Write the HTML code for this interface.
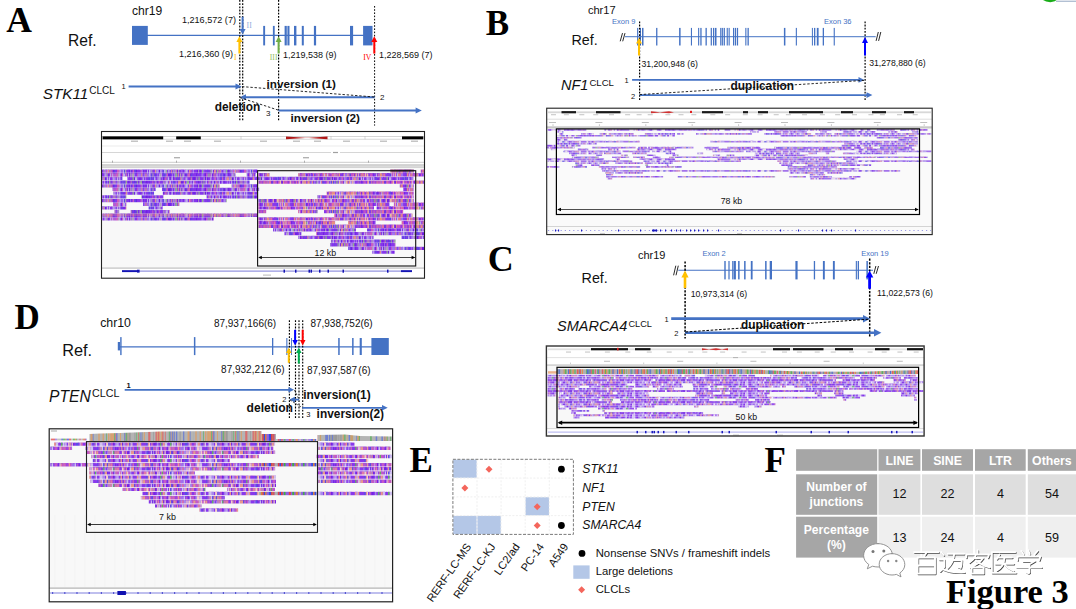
<!DOCTYPE html>
<html><head><meta charset="utf-8"><title>Figure 3</title>
<style>
html,body{margin:0;padding:0;background:#fff;}
body{width:1076px;height:609px;overflow:hidden;font-family:"Liberation Sans",sans-serif;}
svg{display:block;position:absolute;left:0;top:0;}
text{font-family:"Liberation Sans",sans-serif;fill:#111;}
.lab{font-family:"Liberation Serif",serif;font-weight:bold;font-size:35px;fill:#000;}
.b{font-weight:bold;}
.i{font-style:italic;}
.bl{fill:#4472C4;}
.ex{fill:#4472C4;}
</style></head><body>
<svg width="1076" height="609" viewBox="0 0 1076 609">
<!-- 00_defs.svg -->
<defs>
<pattern id="pA" patternUnits="userSpaceOnUse" x="0" y="169.55" width="127" height="14.720">
<path d="M0 1.9h127M0 5.6h127M0 9.2h127M0 12.9h127" stroke="#8636ec" stroke-width="3.8" fill="none"/>
<path d="M2.2 1.9h1.1M4.1 1.9h0.8M8.9 1.9h1.1M15.5 1.9h1.2M18.7 1.9h1.2M31.9 1.9h1.3M50.1 1.9h1M56.5 1.9h0.8M64.6 1.9h1M70.1 1.9h0.9M72.9 1.9h1M85.9 1.9h1M100.3 1.9h1.4M112.5 1.9h1.4M1.9 5.6h1M40.9 5.6h0.9M41.8 5.6h1.1M42.9 5.6h0.9M46.2 5.6h0.8M58.2 5.6h1.2M63.1 5.6h1.1M69.1 5.6h1M77.9 5.6h1.3M84.8 5.6h1M96.7 5.6h1M97.7 5.6h0.8M101.3 5.6h0.9M107.6 5.6h1M121.3 5.6h0.9M6.9 9.2h1.1M12.4 9.2h1.2M35.7 9.2h1.1M36.7 9.2h0.9M43.4 9.2h1M45.8 9.2h1M62.7 9.2h1.1M66.1 9.2h1.2M67.3 9.2h1.1M77.8 9.2h1.2M80.1 9.2h1M104.8 9.2h1.2M123.5 9.2h1M1.1 12.9h1.4M6.8 12.9h0.9M8.9 12.9h0.9M11.6 12.9h0.8M15 12.9h1.4M18.6 12.9h1.2M19.7 12.9h1M21.7 12.9h1M26.4 12.9h1.3M29.6 12.9h0.9M53.7 12.9h1.2M54.9 12.9h1M65.2 12.9h0.9M71.1 12.9h1.1M75.3 12.9h1.1M86.7 12.9h1.4M92.9 12.9h0.9M96.8 12.9h0.8M108.1 12.9h1" stroke="#7020e4" stroke-width="3.8" fill="none"/>
<path d="M3.3 1.9h0.8M23.2 1.9h0.9M29 1.9h0.9M30.7 1.9h1.3M34.5 1.9h1.1M42.4 1.9h0.8M46.8 1.9h0.8M54.4 1.9h0.9M57.3 1.9h1M76.2 1.9h1.1M93.8 1.9h0.9M97.5 1.9h1.4M104.7 1.9h1.3M109.4 1.9h1.3M120.7 1.9h1M3.7 5.6h1M6.9 5.6h1.1M11 5.6h0.9M11.9 5.6h1.2M13.2 5.6h1M15.3 5.6h0.9M17.1 5.6h1.3M19.5 5.6h1.3M20.9 5.6h1.2M23.1 5.6h1.1M30.3 5.6h0.9M38.5 5.6h1M45.1 5.6h1.1M47 5.6h1.2M74.4 5.6h1.2M75.6 5.6h0.9M80.3 5.6h1M91.6 5.6h1M92.6 5.6h0.9M94.4 5.6h1.4M98.5 5.6h1.1M99.6 5.6h0.9M104 5.6h1.2M114.7 5.6h0.9M0 9.2h1.1M18 9.2h1.1M22.9 9.2h0.8M28 9.2h0.9M30.2 9.2h1.3M34.9 9.2h0.8M55.2 9.2h1.4M57.8 9.2h1.2M79 9.2h1M86.7 9.2h1M91.3 9.2h1.3M102 9.2h1.1M112.2 9.2h1M114.6 9.2h1.3M27.7 12.9h0.8M45.4 12.9h0.9M48.7 12.9h1.1M59 12.9h0.8M63.1 12.9h0.9M64 12.9h1.2M88.1 12.9h1.3M99.8 12.9h1.3M102 12.9h1M107.1 12.9h1M116.7 12.9h0.8M119.5 12.9h1M122.5 12.9h0.9" stroke="#a274ee" stroke-width="3.8" fill="none"/>
<path d="M14.6 1.9h0.9M19.9 1.9h1M22 1.9h1.3M29.9 1.9h0.8M33.3 1.9h1.2M36.9 1.9h1.1M38 1.9h0.8M41.3 1.9h1M58.3 1.9h1.4M59.7 1.9h1.1M65.7 1.9h0.9M84.6 1.9h1.3M96.6 1.9h1M107.2 1.9h0.9M119.3 1.9h1.4M122.6 1.9h1.4M1 5.6h0.9M22 5.6h1.1M32 5.6h0.8M34.1 5.6h0.9M56.2 5.6h1.1M83.6 5.6h1.2M89.3 5.6h1.3M105.2 5.6h1.3M110.1 5.6h1.2M112.1 5.6h1.3M119.1 5.6h1.2M123 5.6h1.1M124.1 5.6h1.2M8 9.2h1.1M9 9.2h1.3M15.6 9.2h1.2M27 9.2h0.9M31.5 9.2h1.3M40.7 9.2h1.4M44.4 9.2h1.4M59.1 9.2h1.3M83.3 9.2h1.1M90.4 9.2h0.8M98.3 9.2h1.1M106.9 9.2h1.2M108.9 9.2h1.1M113.2 9.2h1.4M116.9 9.2h1.4M119.2 9.2h1.1M38.5 12.9h1.4M39.9 12.9h1M42.7 12.9h1.3M66.1 12.9h1.2M78.6 12.9h1.3M85.3 12.9h1.4M91.7 12.9h1.2M94.7 12.9h1M104.2 12.9h0.9M118.7 12.9h0.9" stroke="#c0b0e8" stroke-width="3.8" fill="none"/>
<path d="M27.9 1.9h1.1M44.1 1.9h0.8M62 1.9h1.3M86.9 1.9h0.9M87.8 1.9h1.1M92.5 1.9h1.3M108 1.9h1.3M110.6 1.9h0.9M14.2 5.6h1.1M18.4 5.6h1.1M51.2 5.6h0.8M86.7 5.6h0.8M126.4 5.6h1.3M38.6 9.2h0.8M63.7 9.2h1M99.4 9.2h1.4M100.8 9.2h1.2M103.1 9.2h0.8M125.7 9.2h1.3M3.8 12.9h0.9M41.9 12.9h0.8M51.1 12.9h1.3M52.4 12.9h1.3M57.1 12.9h0.9M89.4 12.9h1" stroke="#e09090" stroke-width="3.8" fill="none"/>
<path d="M5.8 1.9h1.1M13.6 1.9h1M48.8 1.9h1.3M63.3 1.9h1.3M91.2 1.9h1.3M106 1.9h1.2M111.5 1.9h1M117.1 1.9h1.3M118.4 1.9h0.9M10.2 5.6h0.8M39.5 5.6h1.4M60.2 5.6h1.2M61.4 5.6h0.9M62.3 5.6h0.8M79.2 5.6h1.1M82.5 5.6h1M88.4 5.6h0.9M111.3 5.6h0.8M113.5 5.6h1.2M115.6 5.6h1.1M116.7 5.6h1.3M122.1 5.6h0.9M37.6 9.2h1M47.8 9.2h0.9M52.7 9.2h1.3M87.7 9.2h1.4M94.8 9.2h1.3M25.4 12.9h1M31.8 12.9h1M67.3 12.9h1.2M81.3 12.9h1.1M113.5 12.9h1.1" stroke="#cc60c0" stroke-width="3.8" fill="none"/>
<path d="M24.2 1.9h1.1M45.8 1.9h1M47.7 1.9h1.1M51.1 1.9h1M71 1.9h0.8M103.5 1.9h1.2M125.1 1.9h1.1M2.9 5.6h0.9M4.7 5.6h1.2M5.9 5.6h1.1M25.3 5.6h1.2M32.9 5.6h1.3M53 5.6h1.1M55.3 5.6h0.9M106.4 5.6h1.2M118 5.6h1.2M32.8 9.2h0.9M54.1 9.2h1.2M69.3 9.2h0.9M76.6 9.2h1.1M103.9 9.2h0.9M12.5 12.9h1.3M28.5 12.9h1M36.3 12.9h1.2M74.4 12.9h0.9M82.3 12.9h1.3M112.7 12.9h0.8M114.5 12.9h1M117.5 12.9h1.2" stroke="#b0a0b8" stroke-width="3.8" fill="none"/>
<path d="M7.7 1.9h1.2M35.6 1.9h1.3M80.5 1.9h0.8M113.9 1.9h1M123.9 1.9h1.1M24.2 5.6h1.1M27.9 5.6h1.1M36.2 5.6h1.3M37.6 5.6h0.9M59.4 5.6h0.8M64.2 5.6h1.1M93.5 5.6h1M95.8 5.6h0.9M21.5 9.2h1.4M23.7 9.2h1.3M26.1 9.2h0.9M48.7 9.2h1M51.7 9.2h1M93.7 9.2h1M121.4 9.2h1.2M4.7 12.9h1M7.7 12.9h1.2M16.4 12.9h0.9M46.3 12.9h1.4M106.1 12.9h1M121.4 12.9h1.1M123.4 12.9h1.3" stroke="#5c48e4" stroke-width="3.8" fill="none"/>
<path d="M38.9 1.9h1.2M74.9 1.9h1.3M83.5 1.9h1.1M89.9 1.9h1.3M98.9 1.9h1.4M48.2 5.6h0.8M49 5.6h1.3M81.3 5.6h1.2M5.6 9.2h1.2M71.4 9.2h1.3M9.8 12.9h0.9M13.8 12.9h1.2M59.8 12.9h1M60.8 12.9h1.3M76.4 12.9h1M109.1 12.9h1.3M125.6 12.9h1.4" stroke="#90b090" stroke-width="3.8" fill="none"/>
</pattern>
<pattern id="pAr" patternUnits="userSpaceOnUse" x="0" y="169.55" width="113" height="14.720">
<path d="M0 1.9h113M0 5.6h113M0 9.2h113M0 12.9h113" stroke="#8838ec" stroke-width="3.8" fill="none"/>
<path d="M4 1.9h1.3M9.6 1.9h0.9M16.3 1.9h1.2M21.5 1.9h1.1M44.1 1.9h1.3M47.8 1.9h0.9M48.7 1.9h1.1M60.2 1.9h1.3M66.2 1.9h1.3M74 1.9h0.9M85 1.9h1M92.3 1.9h1M99.6 1.9h1M110.1 1.9h1.2M3.7 5.6h1M15.1 5.6h1.1M33.6 5.6h1.2M37.9 5.6h0.8M66.8 5.6h0.9M79.6 5.6h1.3M80.9 5.6h0.9M103.4 5.6h1.1M112.6 5.6h1.2M21.9 9.2h1M33.7 9.2h1.1M37.2 9.2h1.3M38.5 9.2h1M41.4 9.2h1M52 9.2h1.2M65 9.2h1.1M89.9 9.2h1.3M92.5 9.2h1.1M95.9 9.2h1M101.2 9.2h0.8M3.8 12.9h1.1M22.2 12.9h1.2M45.1 12.9h1.1M50.7 12.9h1.2M55.1 12.9h1.3M56.3 12.9h0.8M61.6 12.9h1.1M68.3 12.9h1.4M75 12.9h1.3M92.6 12.9h1.1" stroke="#7424e4" stroke-width="3.8" fill="none"/>
<path d="M0 1.9h1.4M7.6 1.9h0.9M8.5 1.9h1.1M32.3 1.9h1.1M42 1.9h0.8M54.5 1.9h1.2M59.1 1.9h1.2M76 1.9h0.8M76.8 1.9h0.9M86.8 1.9h1.1M5.9 5.6h1.2M7.1 5.6h1.3M39.7 5.6h1M43.4 5.6h0.8M62 5.6h1.2M63.1 5.6h1M73.4 5.6h1M84 5.6h0.9M89.3 5.6h0.9M110.4 5.6h0.9M1.1 9.2h1.2M4.3 9.2h1.3M19.1 9.2h1M20 9.2h0.8M35.9 9.2h1.3M44.4 9.2h1.2M74.5 9.2h1M91.2 9.2h1.3M1.3 12.9h1.2M12.3 12.9h0.8M41.5 12.9h1.2M84.6 12.9h1.4M88.1 12.9h1.2M103.9 12.9h1.2M108.1 12.9h1.2M112.6 12.9h1" stroke="#a070ea" stroke-width="3.8" fill="none"/>
<path d="M19.6 1.9h1.1M26 1.9h0.9M26.9 1.9h0.9M71.7 1.9h1.2M79.8 1.9h1.2M87.9 1.9h1.2M103.5 1.9h1.2M104.8 1.9h1.2M111.3 1.9h1.1M36.9 5.6h1M52.1 5.6h0.8M54 5.6h0.9M57.8 5.6h1.2M70.1 5.6h0.9M76.5 5.6h0.9M78.7 5.6h0.9M91.5 5.6h1.2M97.8 5.6h1.2M100.9 5.6h1.3M108.3 5.6h1.2M0 9.2h1.1M42.3 9.2h1M69.2 9.2h1.1M81.1 9.2h1.1M85.8 9.2h1M87.9 9.2h0.9M110.3 9.2h1.2M4.9 12.9h1M5.9 12.9h1M11 12.9h1.4M14.3 12.9h1.4M72.9 12.9h1.3M91.2 12.9h1.3M93.7 12.9h1.3" stroke="#c8b4e8" stroke-width="3.8" fill="none"/>
<path d="M1.4 1.9h1.3M11.8 1.9h0.8M15.1 1.9h1.2M17.5 1.9h1.1M18.5 1.9h1.1M20.6 1.9h0.8M53.7 1.9h0.9M55.7 1.9h1.3M61.5 1.9h1.4M68.7 1.9h1.2M77.7 1.9h0.9M82.8 1.9h0.9M86 1.9h0.8M91.4 1.9h0.8M94.2 1.9h0.8M96.3 1.9h0.9M97.2 1.9h1.1M112.5 1.9h1.3M0 5.6h1M16.3 5.6h0.9M21.6 5.6h1.2M24.1 5.6h0.8M40.7 5.6h1.4M42.1 5.6h1.3M59 5.6h0.9M67.8 5.6h1.3M72.2 5.6h1.3M77.5 5.6h1.3M92.7 5.6h0.9M96.6 5.6h1.2M99 5.6h0.9M109.5 5.6h1M3.4 9.2h0.9M6.7 9.2h0.8M8.4 9.2h1.4M9.8 9.2h0.9M11.8 9.2h1.1M12.9 9.2h1.3M23.8 9.2h1.4M28.1 9.2h1.3M29.3 9.2h1.1M31.4 9.2h1M43.3 9.2h1.1M72.2 9.2h1.1M76.9 9.2h1.2M78.1 9.2h0.8M83.6 9.2h1.2M88.9 9.2h1.1M96.9 9.2h1M99.9 9.2h1.3M102.8 9.2h1.4M105.4 9.2h1.3M106.7 9.2h1.2M107.9 9.2h1.2M8 12.9h0.8M9.7 12.9h1.3M32.4 12.9h0.8M37.5 12.9h1M40.5 12.9h1M48.3 12.9h1M57.1 12.9h1.1M77.4 12.9h1.3M78.8 12.9h1.1M81.7 12.9h1M82.7 12.9h1M86 12.9h0.9M105.9 12.9h1" stroke="#e8907e" stroke-width="3.8" fill="none"/>
<path d="M22.6 1.9h1.3M30 1.9h1.2M52.8 1.9h0.9M62.9 1.9h1M83.6 1.9h1.3M89.1 1.9h1.4M93.3 1.9h0.8M101.4 1.9h1.3M107.9 1.9h1M9.4 5.6h1.2M14.1 5.6h1.1M22.8 5.6h1.2M38.7 5.6h1M44.2 5.6h1.1M45.3 5.6h1M59.9 5.6h0.8M60.7 5.6h1.2M71.1 5.6h1.1M75.4 5.6h1.2M87 5.6h1.4M99.9 5.6h1M102.3 5.6h1.1M105.7 5.6h1.3M107 5.6h1.3M111.3 5.6h1.3M7.5 9.2h0.9M10.6 9.2h1.1M15.2 9.2h0.9M16.1 9.2h1M20.8 9.2h1.1M22.9 9.2h0.9M27.2 9.2h0.9M40.6 9.2h0.8M47.8 9.2h1.3M54 9.2h0.9M58.2 9.2h1.2M61.9 9.2h0.9M62.8 9.2h1.1M86.8 9.2h1.1M97.9 9.2h1.2M99.1 9.2h0.8M104.2 9.2h1.2M2.5 12.9h1.3M18.8 12.9h0.8M24.7 12.9h0.8M28 12.9h1.2M34.5 12.9h1M38.5 12.9h1.1M42.7 12.9h1M43.7 12.9h1.4M52.9 12.9h1M67.4 12.9h0.9M69.7 12.9h1.2M71.9 12.9h1M80.7 12.9h0.9M95 12.9h1.4" stroke="#e070a0" stroke-width="3.8" fill="none"/>
<path d="M5.3 1.9h1M36.1 1.9h1.2M57.1 1.9h1.1M100.6 1.9h0.8M102.7 1.9h0.8M108.9 1.9h1.2M11.8 5.6h1.1M12.8 5.6h1.2M24.9 5.6h1M27.2 5.6h0.8M31.1 5.6h1.3M32.4 5.6h1.2M52.9 5.6h1.1M54.9 5.6h1M69.1 5.6h1M74.5 5.6h0.9M81.8 5.6h1.2M90.1 5.6h1.4M95.6 5.6h1M104.5 5.6h1.2M25.2 9.2h0.9M32.4 9.2h1.3M45.6 9.2h1.4M46.9 9.2h0.8M49.1 9.2h0.9M56 9.2h1.3M60.6 9.2h1.3M63.9 9.2h1.1M70.3 9.2h1.1M71.4 9.2h0.8M73.3 9.2h1.2M84.8 9.2h1M94.7 9.2h1.2M20.5 12.9h0.9M25.5 12.9h1.2M35.5 12.9h0.9M39.6 12.9h0.9M47 12.9h1.2M49.3 12.9h1.4M51.8 12.9h1.1M58.2 12.9h1.3M59.5 12.9h0.8M60.3 12.9h1.3M62.7 12.9h1.3M66.3 12.9h1.1M74.2 12.9h0.9M100.3 12.9h1.1" stroke="#c850c8" stroke-width="3.8" fill="none"/>
<path d="M10.5 1.9h1.2M40.7 1.9h1.3M46.7 1.9h1.1M50.7 1.9h0.9M51.6 1.9h1.2M72.8 1.9h1.1M81 1.9h0.9M90.5 1.9h0.9M4.6 5.6h1.2M8.4 5.6h0.9M17.2 5.6h0.8M18.9 5.6h0.9M25.9 5.6h1.3M28 5.6h1.3M55.9 5.6h1M2.2 9.2h1.2M14.2 9.2h1M57.3 9.2h0.9M59.4 9.2h1.2M78.9 9.2h1.2M0 12.9h1.3M6.9 12.9h1.2M13.1 12.9h1.2M29.2 12.9h1.1M53.9 12.9h1.2M64.1 12.9h1.2M76.3 12.9h1.1M101.5 12.9h1.1" stroke="#f0b8a0" stroke-width="3.8" fill="none"/>
<path d="M38.3 1.9h1.1M10.6 5.6h1.2M50.8 5.6h1.3M88.4 5.6h0.9M5.6 9.2h1.1M30.4 9.2h0.9M51.2 9.2h0.8M93.6 9.2h1.1M19.6 12.9h0.9M30.2 12.9h1M46.2 12.9h0.8M96.3 12.9h1.3M105.1 12.9h0.9M106.9 12.9h1.2" stroke="#5c48e4" stroke-width="3.8" fill="none"/>
<path d="M34.8 1.9h1.3M37.4 1.9h0.9M58.2 1.9h0.9M67.5 1.9h1.2M17.2 9.2h0.9M80.1 9.2h1M90.4 12.9h0.8M110.3 12.9h1.4" stroke="#88a888" stroke-width="3.8" fill="none"/>
</pattern>
<pattern id="pB" patternUnits="userSpaceOnUse" x="0" y="129.20" width="101" height="9.750">
<path d="M0 1h101M0 3h101M0 4.9h101M0 6.8h101M0 8.8h101" stroke="#a272ec" stroke-width="2" fill="none"/>
<path d="M10.8 1h1.8M14.3 1h1.1M31.9 1h1.5M44 1h2M52.6 1h1.6M59.1 1h1.1M62.3 1h1.9M66.4 1h2M92.4 1h2M50.4 3h1.9M52.4 3h1.3M63.6 3h1.8M86.5 3h2.1M12.3 4.9h1M23 4.9h1.1M28.9 4.9h1.2M52.2 4.9h1.7M55.5 4.9h1.9M58.8 4.9h1.5M63.8 4.9h1.2M67.9 4.9h2.1M83.8 4.9h1.8M90.2 4.9h1.1M98.2 4.9h2.2M0 6.8h1.2M11.1 6.8h1.2M23 6.8h1M42.6 6.8h1.9M44.6 6.8h1.9M48.7 6.8h1.7M50.4 6.8h1.5M61.1 6.8h2M66.4 6.8h1.3M75.2 6.8h2.2M79 6.8h1.6M84.7 6.8h1.2M87.2 6.8h1.8M15.1 8.8h1.7M35 8.8h1.8M40.1 8.8h2M49.1 8.8h1.4M50.5 8.8h1M70.8 8.8h1.8M97.4 8.8h1.1" stroke="#8c4cea" stroke-width="2" fill="none"/>
<path d="M27.6 1h1.2M33.5 1h2M38.5 1h1.9M41.5 1h1.3M46 1h1.2M69.5 1h2M71.5 1h1.2M80.7 1h1.7M85.5 1h2M88.7 1h1.9M98 1h2.1M2.7 3h1.4M4.1 3h1M5.1 3h1.5M13.7 3h2.1M15.8 3h1.6M26.7 3h1M27.7 3h1.7M34.3 3h1.6M40.4 3h1.2M45.5 3h1.5M47 3h2M59.1 3h1.1M62.3 3h1.3M67 3h1.5M84.9 3h1.6M90 3h1.1M91.2 3h2.1M93.3 3h1.3M97.4 3h1.4M100.1 3h1.1M4.9 4.9h1.6M6.5 4.9h1.7M9.6 4.9h1.3M10.9 4.9h1.5M15.4 4.9h1.7M20.9 4.9h2M33.2 4.9h2M37.1 4.9h1.9M45.1 4.9h1.9M48.6 4.9h1.7M53.9 4.9h1.5M57.4 4.9h1.5M62.2 4.9h1.6M65 4.9h1.2M76.7 4.9h1.7M82.1 4.9h1.6M85.6 4.9h1.4M88.4 4.9h1.8M91.4 4.9h1.5M94.5 4.9h2.2M9.1 6.8h2.1M12.3 6.8h1.6M24 6.8h2M27.8 6.8h1.6M32.3 6.8h1.7M3.4 8.8h2.1M10.7 8.8h1.6M20.8 8.8h1.1M22 8.8h1.4M27.3 8.8h1.3M53.3 8.8h2M75.9 8.8h2.1M82 8.8h1.8M84.9 8.8h1.5M92.2 8.8h1.3" stroke="#bca6ee" stroke-width="2" fill="none"/>
<path d="M29.9 1h2M71.7 3h2.1M88.6 3h1.4M0 4.9h2M2 4.9h1.7M30 4.9h1.4M96.7 4.9h1.5M5 6.8h2.1M15.1 6.8h1.8M21.6 6.8h1.4M29.4 6.8h1.3M54.7 6.8h1.5M13.6 8.8h1.5M19.5 8.8h1.4M33.9 8.8h1M36.8 8.8h1.5M57.2 8.8h1.5M63.5 8.8h2M78 8.8h2.1M83.8 8.8h1.1M93.5 8.8h2.2" stroke="#dca4bc" stroke-width="2" fill="none"/>
<path d="M4.1 1h1.9M12.6 1h1.7M76.5 1h1.2M83.7 1h1.7M6.6 3h1.1M9.8 3h1.4M11.2 3h1.5M31.2 3h2M69.6 3h2.2M3.7 4.9h1.2M18.4 4.9h1.4M24 4.9h1.5M26.7 4.9h2.2M35.2 4.9h1.9M39 4.9h1.9M78.4 4.9h2.1M89 6.8h1.2M96.8 6.8h1.4M12.3 8.8h1.3M26.1 8.8h1.2M28.6 8.8h2.1M45 8.8h1.9M60.1 8.8h2" stroke="#cc8ccc" stroke-width="2" fill="none"/>
<path d="M22.5 3h1.3M100.4 4.9h1.6M20.1 6.8h1.5M39.8 6.8h1.7M70.9 6.8h1.6M66.5 8.8h1.1M90.4 8.8h1.8" stroke="#a4c494" stroke-width="2" fill="none"/>
<path d="M94.4 1h2M0 3h1.2M7.8 3h2M38.7 3h1.7M57.2 3h2M31.5 4.9h1.7M60.3 4.9h1.9M70 4.9h2M1.2 6.8h2.2M38.2 6.8h1.6M57.6 6.8h2.1M82.1 6.8h1.1M93.3 6.8h1.5M18.2 8.8h1.2M30.7 8.8h2.1M72.7 8.8h1.9M80.1 8.8h1.9" stroke="#7c78e6" stroke-width="2" fill="none"/>
<path d="M0 1h2.1M6 1h1.8M8.9 1h1.9M23.3 1h1M24.3 1h1.3M25.6 1h2M28.8 1h1.1M40.3 1h1.2M47.2 1h1.4M48.6 1h1.1M49.7 1h1.1M55.5 1h1.4M56.9 1h2.2M12.6 3h1.1M43.5 3h2M49 3h1.5M53.7 3h1.5M55.2 3h2M60.2 3h2.1M73.9 3h2M81.5 3h1.7M17 4.9h1.3M47 4.9h1.6M50.3 4.9h1.9M74.2 4.9h1.5M80.5 4.9h1.6M87 4.9h1.4M92.8 4.9h1.7M7.1 6.8h2M16.9 6.8h1.4M30.7 6.8h1.6M47.6 6.8h1.1M52 6.8h1.1M53 6.8h1.7M59.7 6.8h1.4M63 6.8h1.7M64.8 6.8h1.6M69.5 6.8h1.4M98.2 6.8h1.5M99.7 6.8h1.2M43.9 8.8h1.1M67.7 8.8h1.3" stroke="#e6dcea" stroke-width="2" fill="none"/>
</pattern>
<pattern id="pC" patternUnits="userSpaceOnUse" x="0" y="374.70" width="113" height="11.000">
<path d="M0 1.1h113M0 3.3h113M0 5.5h113M0 7.7h113M0 9.9h113" stroke="#9550ec" stroke-width="2.2" fill="none"/>
<path d="M4.5 1.1h1.9M52 1.1h1.8M87.3 1.1h1.6M0 3.3h1.6M30 3.3h1.2M45.1 3.3h1.1M76 3.3h1.7M79.2 3.3h1.8M82.9 3.3h1.1M86.8 3.3h1.2M89.4 3.3h1.4M3 5.5h1.6M4.7 5.5h1.6M6.2 5.5h1.1M8.6 5.5h1.5M20.9 5.5h1.9M54.8 5.5h1.6M56.4 5.5h1.7M58.1 5.5h1.1M79.3 5.5h1.6M93.5 5.5h1.8M102.6 5.5h1.9M112.4 5.5h1.6M23.9 7.7h1.3M65.3 7.7h1.9M86.3 7.7h1.4M100.3 7.7h1.7M110.6 7.7h1.7M112.4 7.7h1.7M1.5 9.9h1.7M27.5 9.9h1.1M38.2 9.9h1.7M41.4 9.9h1.4M57.3 9.9h1.4M61.8 9.9h1.8M71.6 9.9h1.8M79.3 9.9h1.8" stroke="#8234e8" stroke-width="2.2" fill="none"/>
<path d="M2.9 1.1h1.5M7.7 1.1h1.1M12.9 1.1h1.6M22.4 1.1h1.3M29.3 1.1h2M31.2 1.1h1.1M53.8 1.1h1.4M63.1 1.1h1.5M76.6 1.1h1.8M79.6 1.1h1.5M81.1 1.1h1.3M86.1 1.1h1.3M90.1 1.1h1.3M95.3 1.1h2M99 1.1h1.7M100.7 1.1h1.3M102 1.1h2M108 1.1h1.7M110.7 1.1h1.4M112.1 1.1h1.4M2.7 3.3h1.9M8.5 3.3h1.5M10 3.3h1.2M11.2 3.3h1.1M24.5 3.3h2M31.3 3.3h1M33.5 3.3h1.7M37.1 3.3h1.9M55.6 3.3h1.2M56.8 3.3h1.8M60.9 3.3h1.2M64.7 3.3h1.9M81 3.3h1.9M88 3.3h1.5M90.8 3.3h1M97.3 3.3h1.3M98.6 3.3h1.3M1.3 5.5h1.7M13.7 5.5h1.5M19.2 5.5h1.7M22.9 5.5h1.9M30.2 5.5h1.1M48.4 5.5h1.2M60.2 5.5h1.3M64.6 5.5h1.9M74.4 5.5h1.8M76.2 5.5h1.5M100 5.5h1.1M110.4 5.5h2M0 7.7h1.8M6.7 7.7h1.1M12.3 7.7h1.3M17.9 7.7h1.2M27.8 7.7h1.6M57.9 7.7h1.1M59 7.7h1.1M64 7.7h1.4M72.9 7.7h1M73.9 7.7h1.4M78.4 7.7h1.5M92.7 7.7h1.3M102 7.7h1.6M105.9 7.7h1.9M0 9.9h1.5M3.2 9.9h1.6M4.8 9.9h1.2M8.8 9.9h1.5M11.5 9.9h1.9M13.5 9.9h1.5M28.6 9.9h1.8M33.2 9.9h1.7M44.1 9.9h1.2M52.9 9.9h1.2M54.1 9.9h1.8M63.6 9.9h1.4M73.4 9.9h1.5M76.8 9.9h1M77.8 9.9h1.5M82.6 9.9h1.4M88.6 9.9h1.7M95.4 9.9h1.8M98.2 9.9h1.7M100.9 9.9h1.4M106.2 9.9h1.3M111.2 9.9h1.9" stroke="#b292f0" stroke-width="2.2" fill="none"/>
<path d="M0 1.1h1.7M11.7 1.1h1.2M19.8 1.1h1.2M26.2 1.1h2M28.2 1.1h1.1M35.3 1.1h1.9M44.6 1.1h1.2M48.8 1.1h1.8M57.8 1.1h1.6M59.4 1.1h1.8M78.3 1.1h1.3M109.7 1.1h1.1M16.7 3.3h1.6M20 3.3h2M35.2 3.3h1.9M40.9 3.3h1.2M62 3.3h1.3M106.8 3.3h1.6M111.6 3.3h1.9M49.6 5.5h1.9M53.4 5.5h1.3M59.1 5.5h1M68.5 5.5h1.6M77.7 5.5h1.6M92 5.5h1.5M3.1 7.7h1.1M4.2 7.7h1.1M9.2 7.7h1.9M14.8 7.7h1.8M26.7 7.7h1.2M40.7 7.7h1.2M60.1 7.7h1.2M61.3 7.7h1.1M68.4 7.7h1.9M76.7 7.7h1.7M81.6 7.7h1.9M104.9 7.7h1M109.4 7.7h1.2M7.3 9.9h1.5M18 9.9h1.5M60.4 9.9h1.4M66.9 9.9h2M68.9 9.9h1.4M74.9 9.9h1.9M85.6 9.9h1.7M97.1 9.9h1.1M99.9 9.9h1.1" stroke="#d2c4f2" stroke-width="2.2" fill="none"/>
<path d="M8.8 1.1h1.3M10.2 1.1h1.5M41.8 1.1h1M47.7 1.1h1.2M82.5 1.1h1.7M42.1 3.3h1.3M43.4 3.3h1.7M51.3 3.3h1.5M59.7 3.3h1.1M66.6 3.3h1.7M74.9 3.3h1.2M103.4 3.3h1.6M105 3.3h1.9M0 5.5h1.3M27.4 5.5h1.4M82.6 5.5h1.7M22.1 7.7h1.8M32.2 7.7h1.4M49.7 7.7h1.2M96.5 7.7h1.8M16.8 9.9h1.2M34.9 9.9h1.5M84 9.9h1.5M90.3 9.9h1.8M93.2 9.9h1.1M102.4 9.9h2" stroke="#dc8cc4" stroke-width="2.2" fill="none"/>
<path d="M14.5 1.1h1.8M55.2 1.1h1.4M74.7 1.1h1.8M4.6 3.3h1.1M15.3 3.3h1.4M22 3.3h1.1M28.8 5.5h1.4M38.7 5.5h1.6M5.3 7.7h1.4M19.1 7.7h1.2M23.1 9.9h1.4M51.3 9.9h1.6" stroke="#6a5ce4" stroke-width="2.2" fill="none"/>
<path d="M6.4 1.1h1.3M45.8 1.1h1.8M91.4 1.1h2M105.6 1.1h1.3M39 3.3h1.9M52.8 3.3h1.1M71.6 3.3h1.5M84 3.3h1.2M109.8 3.3h1.8M12.7 5.5h1M45.3 5.5h1.8M105.7 5.5h1.7M1.8 7.7h1.3M7.8 7.7h1.4M25.2 7.7h1.5M29.4 7.7h1.6M31 7.7h1.2M39.7 7.7h1M44.6 7.7h1.3M46 7.7h1.7M56.6 7.7h1.3M91.1 7.7h1.6M6.1 9.9h1.3M19.4 9.9h1.8M81.1 9.9h1.5" stroke="#e4a8a8" stroke-width="2.2" fill="none"/>
<path d="M37.3 1.1h1.6M61.2 1.1h1.9M46.2 3.3h1.7M99.9 3.3h1.5M89.3 5.5h1.5" stroke="#78c078" stroke-width="2.2" fill="none"/>
<path d="M69 1.1h1.4M93.4 1.1h1.9M93.2 3.3h1.5M7.3 5.5h1.3M25.9 5.5h1.6M42 5.5h1.7M86.1 5.5h1.8M16.6 7.7h1.3M35.4 7.7h1.9M38.6 7.7h1.1M55.5 7.7h1M67.2 7.7h1.2M79.9 7.7h1.7M84.9 7.7h1.4M103.6 7.7h1.3M107.8 7.7h1.6M31.8 9.9h1.4M107.6 9.9h1" stroke="#f4f0fa" stroke-width="2.2" fill="none"/>
</pattern>
<pattern id="pD" patternUnits="userSpaceOnUse" x="0" y="442.50" width="109" height="16.480">
<path d="M0 2.1h109M0 6.2h109M0 10.3h109M0 14.5h109" stroke="#8838ec" stroke-width="4.2" fill="none"/>
<path d="M1.3 2.1h0.9M3.7 2.1h1.5M13.1 2.1h0.9M44.2 2.1h1.1M45.3 2.1h1.3M72.8 2.1h1.5M3.6 6.2h1M5.5 6.2h1.3M8.3 6.2h1.3M49.9 6.2h1.5M58.3 6.2h1.2M78.4 6.2h1.3M79.7 6.2h1M85.4 6.2h1M18 10.3h1.3M19.3 10.3h1.4M39.2 10.3h1M42.9 10.3h1M45.1 10.3h1.6M54.1 10.3h1.4M56.7 10.3h1.3M58 10.3h1.3M63.4 10.3h1.1M68 10.3h1M0 14.5h1M4.2 14.5h1M28.9 14.5h1.2M33.4 14.5h1M45.7 14.5h1.6M59.1 14.5h1M77.9 14.5h1M107 14.5h1.5" stroke="#7424e4" stroke-width="4.2" fill="none"/>
<path d="M6.2 2.1h1.3M8.7 2.1h1.3M14 2.1h1.3M15.3 2.1h1.3M47.9 2.1h1.5M64.1 2.1h1.1M90.8 2.1h1.1M102.7 2.1h1.3M104 2.1h1M4.6 6.2h0.9M16.3 6.2h1.5M20.8 6.2h1.6M73.3 6.2h1.5M86.4 6.2h1.6M99.7 6.2h1.1M0 10.3h1.3M30 10.3h1.5M36.5 10.3h1.1M43.9 10.3h1.2M71.7 10.3h1.4M74.7 10.3h1.1M75.8 10.3h1.5M81 10.3h1M82 10.3h0.9M104.3 10.3h1.5M107.2 10.3h1.5M5.1 14.5h1.3M15.5 14.5h1.3M20.8 14.5h1.6M43.6 14.5h1.1M64 14.5h1.4M74.3 14.5h0.9M78.9 14.5h1.5M87.6 14.5h1.2M96 14.5h1.1" stroke="#a888ec" stroke-width="4.2" fill="none"/>
<path d="M0 2.1h1.3M7.5 2.1h1.2M22.6 2.1h0.9M29.3 2.1h1.5M55.8 2.1h1M56.8 2.1h1.4M62.6 2.1h1.6M65.2 2.1h1.4M79.7 2.1h1.1M86.6 2.1h1.3M87.9 2.1h0.9M95.5 2.1h1.5M99.5 2.1h1.2M100.7 2.1h1M101.7 2.1h1M17.8 6.2h1.5M30.9 6.2h1.2M47.2 6.2h1.3M51.5 6.2h1.6M71.5 6.2h0.9M74.8 6.2h1.3M80.7 6.2h1.4M90.3 6.2h1.2M91.5 6.2h1.6M101.7 6.2h1.5M2.6 10.3h1.5M20.7 10.3h1.3M31.5 10.3h1M41.8 10.3h1.1M51.4 10.3h1.4M78.3 10.3h1.3M90.2 10.3h1.4M1 14.5h0.9M9.7 14.5h1.5M12.1 14.5h0.9M26.4 14.5h1.4M31.1 14.5h1.3M49.4 14.5h1.5M57.8 14.5h1.3M62.4 14.5h1.6M72.8 14.5h1.5M91.3 14.5h1.4" stroke="#cfc0ee" stroke-width="4.2" fill="none"/>
<path d="M11.5 2.1h1.5M18.8 2.1h1.5M27.8 2.1h1.5M30.8 2.1h1.4M38.7 2.1h1.2M53.6 2.1h1.2M54.7 2.1h1.1M69.5 2.1h1.3M88.8 2.1h1M89.8 2.1h1M12.3 6.2h1.1M33.6 6.2h1.4M35 6.2h1M39.7 6.2h1.6M68.9 6.2h1.1M100.7 6.2h1M104.4 6.2h1.5M105.9 6.2h1M108.1 6.2h1.2M1.3 10.3h1.3M6.2 10.3h1.4M14.5 10.3h1M22 10.3h1.6M23.6 10.3h1.5M52.8 10.3h1.3M60.7 10.3h1.5M64.4 10.3h0.9M65.4 10.3h1.4M84.1 10.3h1.4M85.5 10.3h1.2M89.2 10.3h1M97 10.3h1.4M108.6 10.3h0.9M6.5 14.5h1.1M16.9 14.5h1.3M42.2 14.5h1.4M44.7 14.5h1M67.9 14.5h1M76.6 14.5h1.2M80.4 14.5h1M82.4 14.5h1.2M90.2 14.5h1.1M104.4 14.5h1.1M105.4 14.5h1.6" stroke="#e8988c" stroke-width="4.2" fill="none"/>
<path d="M17.7 2.1h1.1M42.3 2.1h0.9M80.8 2.1h1.1M1.2 6.2h1.3M2.5 6.2h1.1M15 6.2h1.3M23.6 6.2h1.1M37.5 6.2h1M44.1 6.2h1.5M60.8 6.2h1.4M63.3 6.2h1.5M83.4 6.2h1M7.6 10.3h1.2M8.8 10.3h1.5M16.8 10.3h1.2M26.2 10.3h1.4M48.9 10.3h1.3M70.3 10.3h1.3M73.1 10.3h1.6M96 10.3h1M11.2 14.5h0.9M14.2 14.5h1.3M25.2 14.5h1.2M30.1 14.5h1M32.4 14.5h1M34.5 14.5h1.3M35.8 14.5h1.6M38.9 14.5h1.4M51.8 14.5h1M83.6 14.5h1.3M88.8 14.5h1.4M98.5 14.5h1.3" stroke="#e078a8" stroke-width="4.2" fill="none"/>
<path d="M2.2 2.1h1.5M16.6 2.1h1.1M43.3 2.1h0.9M81.9 2.1h1M85.3 2.1h1.3M94.3 2.1h1.1M0 6.2h1.2M9.6 6.2h1.3M29.3 6.2h1.6M36.1 6.2h1.5M45.7 6.2h1.5M48.5 6.2h1.5M54.6 6.2h1.6M56.2 6.2h1.1M62.1 6.2h1.2M64.8 6.2h1.6M67.5 6.2h1.4M70 6.2h1.5M77.2 6.2h1.1M82.1 6.2h1.4M84.4 6.2h0.9M98.4 6.2h1.2M5.3 10.3h0.9M28.7 10.3h1.3M47.7 10.3h1.2M66.8 10.3h1.2M82.9 10.3h1.3M86.7 10.3h1.1M87.8 10.3h1.5M93.2 10.3h1.4M99.5 10.3h1.3M1.9 14.5h1.3M3.2 14.5h0.9M7.6 14.5h1.1M8.7 14.5h1M19.2 14.5h1.6M54 14.5h1.5M55.6 14.5h1.2M65.4 14.5h1.5M70.1 14.5h1.5M97.1 14.5h1.5M100.8 14.5h1.6" stroke="#c458c8" stroke-width="4.2" fill="none"/>
<path d="M21.4 2.1h1.2M39.9 2.1h1.1M68.2 2.1h1.2M71.7 2.1h1.1M106.1 2.1h1.1M107.1 2.1h1.3M32.1 6.2h1.4M59.5 6.2h1.2M88 6.2h1.1M89 6.2h1.3M12.9 10.3h1.6M46.7 10.3h1M55.5 10.3h1.2M77.3 10.3h1M79.6 10.3h1.4M91.7 10.3h1.5M94.6 10.3h1.4M18.1 14.5h1.1M37.4 14.5h1.6M41.3 14.5h0.9M48.2 14.5h1.1M60.1 14.5h0.9M75.3 14.5h1.3M92.6 14.5h1" stroke="#f4ccc4" stroke-width="4.2" fill="none"/>
<path d="M20.2 2.1h1.2M37.2 2.1h1.4M75.9 2.1h1.3M77.2 2.1h1.1M93.3 2.1h1M108.4 2.1h0.9M42.7 6.2h1.5M97.4 6.2h1M103.2 6.2h1.2M106.9 6.2h1.2M25.1 10.3h1.2M37.6 10.3h1.6M62.2 10.3h1.1M69 10.3h1.4M61 14.5h1.4M103.3 14.5h1.1" stroke="#5850e4" stroke-width="4.2" fill="none"/>
<path d="M50.9 2.1h1.5M61 2.1h1.5M28.2 6.2h1.1M4.1 10.3h1.2M102.9 10.3h1.4M52.8 14.5h1.2M95 14.5h1.1" stroke="#60b060" stroke-width="4.2" fill="none"/>
</pattern>
<pattern id="pMM" patternUnits="userSpaceOnUse" x="0" y="430.00" width="89" height="14.000">
<path d="M0 7h89" stroke="#9060e0" stroke-width="14" fill="none"/>
<path d="M16.8 7h1.7M25.3 7h1.8M36.1 7h1.4M62.9 7h1.3M64.2 7h1.4M73 7h1.9M76.2 7h1" stroke="#40b040" stroke-width="14" fill="none"/>
<path d="M5.3 7h1.2M28.6 7h2.2M46.1 7h1.6M65.6 7h1.1M74.9 7h1.3M82.6 7h2M87.1 7h1.4" stroke="#e08030" stroke-width="14" fill="none"/>
<path d="M1.9 7h2.2M12.4 7h1.6M44.2 7h1.8M47.7 7h1.5M61.3 7h1.5M66.7 7h2.2M85.7 7h1.4" stroke="#3050e0" stroke-width="14" fill="none"/>
<path d="M4.1 7h1.2M6.5 7h1.1M10.7 7h1.7M14 7h1.7M21.8 7h2M50.9 7h1.9M52.8 7h2.1M68.9 7h2.1M79.3 7h1.4M84.6 7h1.1" stroke="#e04040" stroke-width="14" fill="none"/>
<path d="M7.6 7h2.1M9.7 7h1M32.2 7h1.9M39.5 7h1.7M49.2 7h1.8M56.8 7h1.8M58.6 7h1.5M60.1 7h1.2M71 7h2M77.2 7h2.1M80.7 7h1.9" stroke="#b0b0b0" stroke-width="14" fill="none"/>
</pattern>
<pattern id="pCov2" patternUnits="userSpaceOnUse" x="0" y="430.00" width="83" height="14.000">
<path d="M0 7h83" stroke="#b4b4b4" stroke-width="14" fill="none"/>
<path d="M0 7h1.3M16.6 7h1.8M24.3 7h0.9M43.7 7h1.5M49.4 7h1.5M64 7h1.4M76.2 7h1.2M77.4 7h1.7M80 7h1.5" stroke="#7080d0" stroke-width="14" fill="none"/>
<path d="M10.6 7h1.5M14.7 7h0.8M18.3 7h1.4M19.7 7h1.4M25.2 7h1.8M53.6 7h1.2M70.8 7h1.3" stroke="#c8a070" stroke-width="14" fill="none"/>
<path d="M12.1 7h1.5M26.9 7h1.1M38.1 7h1.7M54.8 7h0.9M58.1 7h1" stroke="#70b070" stroke-width="14" fill="none"/>
<path d="M51.9 7h0.8M67.1 7h1.5" stroke="#d07070" stroke-width="14" fill="none"/>
<path d="M1.3 7h1.3M2.7 7h1.2M3.9 7h1.5M6.3 7h1.1M8.2 7h1.5M52.7 7h0.9M81.5 7h1.7" stroke="#9a9a9a" stroke-width="14" fill="none"/>
</pattern>
<pattern id="pCov" patternUnits="userSpaceOnUse" x="0" y="366.00" width="97" height="12.000">
<path d="M0 6h97" stroke="#b4b4b4" stroke-width="12" fill="none"/>
<path d="M1.3 6h1.4M5.6 6h1.3M11 6h1.4M13.2 6h1.2M14.3 6h0.7M15.1 6h1.2M16.3 6h0.9M23.1 6h0.9M30.7 6h0.9M46.8 6h1.1M59.9 6h1M62.1 6h1.2M64.1 6h1.2M73.6 6h1.1M75.9 6h0.7M90.6 6h0.8M91.3 6h1.4" stroke="#d8a070" stroke-width="12" fill="none"/>
<path d="M9.2 6h0.8M17.1 6h1.1M29 6h1M39.3 6h0.9M41.8 6h0.7M71.8 6h1.1" stroke="#70b070" stroke-width="12" fill="none"/>
<path d="M19.1 6h1.4M27.1 6h0.8M43.4 6h1.1M72.9 6h0.8M74.7 6h1.2M76.6 6h1.2M78.9 6h1.4M86.1 6h1.2M92.7 6h0.9" stroke="#7080d0" stroke-width="12" fill="none"/>
<path d="M18.3 6h0.8M41 6h0.8M51.2 6h1M52.2 6h1.2M58.5 6h1.4M60.9 6h1.3M65.2 6h1.3M67.9 6h0.8" stroke="#d87070" stroke-width="12" fill="none"/>
<path d="M27.9 6h1.1M30 6h0.7M31.6 6h1.1M32.7 6h1M37.5 6h0.9M45.2 6h0.8M56.1 6h0.7M82.6 6h1M96.9 6h1" stroke="#9a9a9a" stroke-width="12" fill="none"/>
</pattern>
<pattern id="pCovC" patternUnits="userSpaceOnUse" x="0" y="366.00" width="91" height="12.000">
<path d="M0 6h91" stroke="#b0b0b0" stroke-width="12" fill="none"/>
<path d="M4.4 6h0.9M9.7 6h1.2M18.6 6h0.9M19.5 6h1M24.1 6h1.2M28.4 6h1.2M40 6h0.9M42.7 6h0.9M45.8 6h0.8M46.7 6h1.2M51.1 6h1.3M59 6h1.1M62.5 6h0.7M63.2 6h1M75.1 6h1.1M78.2 6h0.8M79.8 6h0.7M85.4 6h1" stroke="#60b060" stroke-width="12" fill="none"/>
<path d="M5.3 6h1.3M9 6h0.7M17.6 6h0.9M26.4 6h1.4M32.1 6h0.8M35.8 6h1.2M53.3 6h0.7M58.2 6h0.8M60.1 6h1.2M65.5 6h0.9M67.6 6h1M74.3 6h0.8M77 6h1.2M82.5 6h0.8" stroke="#e09050" stroke-width="12" fill="none"/>
<path d="M1.2 6h1.1M3.6 6h0.8M11.7 6h0.8M13.2 6h0.9M22.1 6h1.1M32.9 6h0.8M40.9 6h1.1M42 6h0.7M43.6 6h1.1M52.3 6h0.9M66.4 6h1.2M71 6h1M76.2 6h0.7M84.6 6h0.8M88.6 6h0.9" stroke="#5070d0" stroke-width="12" fill="none"/>
<path d="M0 6h1.2M6.6 6h1.3M23.2 6h0.9M30.8 6h1.3M33.7 6h1.3M44.7 6h1.1M48.7 6h1.2M55.8 6h1.4M72.9 6h1.4M89.5 6h1.3" stroke="#e06060" stroke-width="12" fill="none"/>
<path d="M2.4 6h1.2M15.5 6h0.8M49.9 6h1.2M68.5 6h1.3M79 6h0.8M90.8 6h1" stroke="#c0a0c0" stroke-width="12" fill="none"/>
</pattern>
</defs>

<!-- 10_panelA.svg -->
<g id="panelA">
<text class="lab" x="6.3" y="32.4" style="font-size:35.6px">A</text>
<text x="132" y="14.7" font-size="12.1">chr19</text>
<text x="68" y="45.8" font-size="15.6">Ref.</text>
<!-- gene -->
<line x1="147" y1="35.3" x2="364" y2="35.3" stroke="#4472C4" stroke-width="1.2"/>
<g class="bl">
<rect x="132" y="25.9" width="15.8" height="19"/>
<rect x="263.2" y="25.9" width="1.9" height="19.5"/>
<rect x="272.9" y="25.9" width="1.8" height="19.5"/>
<rect x="284.6" y="25.9" width="2.2" height="19.5"/>
<rect x="287.4" y="25.9" width="2.1" height="19.5"/>
<rect x="294" y="25.9" width="2.4" height="19.5"/>
<rect x="301.8" y="25.9" width="2" height="19.5"/>
<rect x="313.9" y="25.9" width="2.2" height="19.5"/>
<rect x="350" y="25.9" width="3.1" height="19.5"/>
<rect x="363.1" y="25.9" width="9.4" height="19.5"/>
</g>
<!-- dotted verticals -->
<g stroke="#000" stroke-width="1.2" stroke-dasharray="1.8 1.4" fill="none">
<line x1="239.8" y1="0" x2="239.8" y2="120.6"/>
<line x1="242.7" y1="0" x2="242.7" y2="120.6"/>
<line x1="278.6" y1="0" x2="278.6" y2="121"/>
<line x1="374.6" y1="6" x2="374.6" y2="125.6" stroke-width="1" stroke-dasharray="1.6 1.6"/>
</g>
<!-- breakpoint arrows -->
<g fill="none" stroke-width="2">
<line x1="242.6" y1="16.7" x2="242.6" y2="30" stroke="#4472C4"/>
<path d="M239.6 29 L245.6 29 L242.6 34.6 Z" fill="#4472C4" stroke="none"/>
<line x1="239.4" y1="53.5" x2="239.4" y2="41" stroke="#FFC000"/>
<path d="M236.4 42 L242.4 42 L239.4 36.3 Z" fill="#FFC000" stroke="none"/>
<line x1="278.6" y1="53.5" x2="278.6" y2="41" stroke="#70AD47"/>
<path d="M275.6 42 L281.6 42 L278.6 36.3 Z" fill="#70AD47" stroke="none"/>
<line x1="374.3" y1="53.6" x2="374.3" y2="41" stroke="#FF0000"/>
<path d="M371.3 42 L377.3 42 L374.3 36.3 Z" fill="#FF0000" stroke="none"/>
</g>
<text x="181.9" y="22.9" font-size="9.1">1,216,572 (7)</text>
<text x="178.9" y="56.9" font-size="9.1">1,216,360 (9)</text>
<text x="283" y="58" font-size="9">1,219,538 (9)</text>
<text x="378.9" y="58" font-size="9">1,228,569 (7)</text>
<g font-size="7.7">
<text x="246.6" y="27.6" style="font-family:'Liberation Serif',serif;fill:#8FAADC">II</text>
<text x="234" y="60" style="font-family:'Liberation Serif',serif;fill:#FFC000">I</text>
<text x="269.8" y="60" style="font-family:'Liberation Serif',serif;fill:#92C060">III</text>
<text x="363.2" y="60" style="font-family:'Liberation Serif',serif;fill:#FF0000">IV</text>
</g>
<!-- STK11 -->
<text x="42.7" y="98.9" font-size="15.3" class="i">STK11</text>
<text x="89.3" y="93.7" font-size="10">CLCL</text>
<text x="121.6" y="88.8" font-size="7.5">1</text>
<text x="379.9" y="100.2" font-size="8">2</text>
<text x="266" y="115.8" font-size="8">3</text>
<g stroke="#4472C4" stroke-width="2" fill="#4472C4">
<line x1="128.6" y1="86.4" x2="237" y2="86.4"/>
<path d="M235.5 83.4 L241.7 86.4 L235.5 89.4 Z" stroke="none"/>
<line x1="374.6" y1="97.3" x2="245" y2="97.3"/>
<path d="M246 94.3 L239.8 97.3 L246 100.3 Z" stroke="none"/>
<line x1="278.4" y1="110.4" x2="417" y2="110.4"/>
<path d="M415.6 107.4 L421.8 110.4 L415.6 113.4 Z" stroke="none"/>
</g>
<g stroke="#111" stroke-width="0.9" stroke-dasharray="2.4 1.8" fill="none">
<line x1="242" y1="86.6" x2="374.6" y2="97"/>
<line x1="240" y1="97.6" x2="278.5" y2="110.2"/>
</g>
<text x="266.5" y="87.9" font-size="11.7" class="b">inversion (1)</text>
<text x="290.5" y="121.5" font-size="11.7" class="b">inversion (2)</text>
<text x="214.7" y="111.1" font-size="11.9" class="b">deletion</text>
</g>

<!-- 15_igvA.svg -->
<g id="igvA">
<rect x="101.5" y="131.5" width="323.0" height="146.7" fill="#fff"/>
<rect x="101.5" y="167.5" width="323.0" height="100" fill="#f8f8f8"/>
<g stroke="#999" stroke-width="0.4" fill="#fff"><rect x="102.7" y="136.6" width="320.5" height="2.5"/></g>
<rect x="102.7" y="136.4" width="60.5" height="2.9" fill="#000"/>
<rect x="176.2" y="136.4" width="24.6" height="2.9" fill="#000"/>
<rect x="402" y="136.4" width="21.2" height="2.9" fill="#000"/>
<path d="M286 136.4 L305 137.7 L309 137.7 L327.5 136.4 L327.5 139.3 L309 138 L305 138 L286 139.3 Z" fill="#b01818"/>
<line x1="241" y1="136.4" x2="241" y2="139.3" stroke="#999" stroke-width="0.4"/>
<line x1="331" y1="136.4" x2="331" y2="139.3" stroke="#999" stroke-width="0.4"/>
<line x1="365" y1="136.4" x2="365" y2="139.3" stroke="#999" stroke-width="0.4"/>
<g fill="#888"><rect x="131" y="140.6" width="7" height="1.2" opacity="0.6"/><rect x="166" y="140.6" width="7" height="1.2" opacity="0.6"/><rect x="184" y="140.6" width="7" height="1.2" opacity="0.6"/><rect x="214" y="140.6" width="7" height="1.2" opacity="0.6"/><rect x="260" y="140.6" width="7" height="1.2" opacity="0.6"/><rect x="293" y="140.6" width="7" height="1.2" opacity="0.6"/><rect x="314" y="140.6" width="7" height="1.2" opacity="0.6"/><rect x="343" y="140.6" width="7" height="1.2" opacity="0.6"/><rect x="380" y="140.6" width="7" height="1.2" opacity="0.6"/><rect x="411" y="140.6" width="7" height="1.2" opacity="0.6"/></g>
<line x1="101.5" y1="146" x2="424.5" y2="146" stroke="#ddd" stroke-width="0.6"/>
<line x1="101.5" y1="152.5" x2="424.5" y2="152.5" stroke="#bbb" stroke-width="0.6"/>
<rect x="331" y="151.3" width="9" height="2.4" fill="#fff"/><rect x="333" y="151.9" width="5" height="1.2" fill="#777" opacity=".7"/>
<line x1="101.5" y1="162.3" x2="424.5" y2="162.3" stroke="#aaa" stroke-width="0.6"/>
<line x1="112.5" y1="160.6" x2="112.5" y2="162.6" stroke="#666" stroke-width="0.5"/>
<line x1="176.5" y1="160.6" x2="176.5" y2="162.6" stroke="#666" stroke-width="0.5"/>
<line x1="240.5" y1="160.6" x2="240.5" y2="162.6" stroke="#666" stroke-width="0.5"/>
<line x1="304.5" y1="160.6" x2="304.5" y2="162.6" stroke="#666" stroke-width="0.5"/>
<line x1="368.5" y1="160.6" x2="368.5" y2="162.6" stroke="#666" stroke-width="0.5"/>
<rect x="174" y="157.2" width="6" height="1.1" fill="#777" opacity=".7"/>
<rect x="303" y="157.2" width="6" height="1.1" fill="#777" opacity=".7"/>
<rect x="101.5" y="164.3" width="323.0" height="3.4" fill="#c4c4c4"/>
<rect x="101.5" y="165.6" width="323.0" height="1" fill="#e8e8e8"/>
<path d="M101.9 169.4h155.6v3.3h-155.6zM101.9 173.1h133.5v3.3h-133.5zM246.5 173.1h9.5v3.3h-9.5zM101.9 176.8h20.5v3.3h-20.5zM127.2 176.8h130.3v3.3h-130.3zM101.9 180.5h147.7v3.3h-147.7zM101.9 184.2h117.7v3.3h-117.7zM231.5 184.2h26.1v3.3h-26.1zM112.2 187.8h43.4v3.3h-43.4zM162 187.8h97.2v3.3h-97.2zM113 191.5h41.1v3.3h-41.1zM162.8 191.5h94.8v3.3h-94.8zM101.9 195.2h24.5v3.3h-24.5zM141.4 195.2h22.1v3.3h-22.1zM206.2 195.2h51.3v3.3h-51.3zM101.9 198.9h124.8v3.3h-124.8zM113 202.6h13.4v3.3h-13.4zM143 202.6h36.3v3.3h-36.3zM101.9 206.2h24.5v3.3h-24.5zM148.6 206.2h14.2v3.3h-14.2zM114.4 209.9h4.9v3.3h-4.9zM130.7 209.9h39v3.3h-39zM102.4 213.6h155.2v3.3h-155.2zM102.4 217.3h111.3v3.3h-111.3zM255 176.8h158.6v3.3h-158.6zM273.1 228.3h82.8v3.3h-82.8zM367.1 228.3h57.8v3.3h-57.8zM284.3 232h17.2v3.3h-17.2zM316.2 232h108.6v3.3h-108.6zM298.1 235.7h75.9v3.3h-75.9zM401.6 235.7h23.3v3.3h-23.3zM330.9 239.4h64.7v3.3h-64.7zM330 243.1h65.5v3.3h-65.5zM348.1 246.7h76.7v3.3h-76.7zM372.2 250.4h22.4v3.3h-22.4z" fill="url(#pA)"/>
<path d="M390.3 169.4h23.3v3.3h-23.3zM420.5 169.4h4.3v3.3h-4.3zM258.4 173.1h11.2v3.3h-11.2zM298.1 173.1h126.7v3.3h-126.7zM258.4 180.5h166.4v3.3h-166.4zM399.8 184.2h13.8v3.3h-13.8zM403.3 187.8h10.3v3.3h-10.3zM326.6 191.5h87.1v3.3h-87.1zM317.1 195.2h96.6v3.3h-96.6zM258.4 198.9h155.2v3.3h-155.2zM258.4 202.6h131v3.3h-131zM393.8 202.6h31v3.3h-31zM258.4 206.2h115.5v3.3h-115.5zM376.6 206.2h48.3v3.3h-48.3zM258.4 209.9h7.8v3.3h-7.8zM298.1 209.9h19.8v3.3h-19.8zM324 209.9h79.3v3.3h-79.3zM334.3 213.6h78.4v3.3h-78.4zM258.4 217.3h166.4v3.3h-166.4zM258.4 221h76.7v3.3h-76.7zM348.1 221h27.6v3.3h-27.6zM401.6 221h23.3v3.3h-23.3zM258.4 224.6h166.4v3.3h-166.4z" fill="url(#pAr)"/>
<rect x="390.3" y="169.4" width="23.3" height="2.6" fill="#6a4a5a" opacity=".55"/>
<rect x="102.4" y="213.6" width="155.2" height="2.6" fill="#e88a8a" opacity=".35"/>
<rect x="101.5" y="267.3" width="323.0" height="1.6" fill="#cfcfcf"/>
<line x1="122" y1="271.1" x2="412" y2="271.1" stroke="#2222bb" stroke-width="0.6"/>
<rect x="122" y="270.2" width="17" height="1.9" fill="#1414b4"/>
<rect x="401" y="270.2" width="11" height="1.9" fill="#1414b4"/>
<rect x="137" y="269.7" width="2.6" height="2.9" fill="#1414b4"/>
<rect x="283.5" y="269.6" width="1.5" height="3.1" fill="#1414b4"/>
<rect x="295" y="269.6" width="1.5" height="3.1" fill="#1414b4"/>
<rect x="308.5" y="269.6" width="1.5" height="3.1" fill="#1414b4"/>
<rect x="310.5" y="269.6" width="1.5" height="3.1" fill="#1414b4"/>
<rect x="319" y="269.6" width="1.5" height="3.1" fill="#1414b4"/>
<rect x="327.5" y="269.6" width="1.5" height="3.1" fill="#1414b4"/>
<rect x="342.5" y="269.6" width="1.5" height="3.1" fill="#1414b4"/>
<rect x="387" y="269.6" width="1.5" height="3.1" fill="#1414b4"/>
<rect x="263" y="274.6" width="8" height="1" fill="#888" opacity=".6"/>
<rect x="257.6" y="170.7" width="158.1" height="95.3" fill="none" stroke="#111" stroke-width="1.1"/>
<line x1="259" y1="257.5" x2="414.5" y2="257.5" stroke="#111" stroke-width="0.8"/>
<path d="M258.2 257.5 l3.6 -1.7 v3.4z M415.2 257.5 l-3.6 -1.7 v3.4z" fill="#000"/>
<text x="314.5" y="255.5" font-size="8.8">12 kb</text>
<rect x="101.5" y="131.5" width="323.0" height="146.7" fill="none" stroke="#222" stroke-width="1.1"/>
</g>

<!-- 20_panelB.svg -->
<g id="panelB">
<text class="lab" x="485.8" y="35.1">B</text>
<text x="587.9" y="14.3" font-size="11.1">chr17</text>
<text x="612" y="24.2" class="ex" font-size="7.5">Exon 9</text>
<text x="824" y="23.8" class="ex" font-size="7.5">Exon 36</text>
<text x="571.5" y="44.6" font-size="14.3">Ref.</text>
<path d="M620.2 41.3L622.5 33.1M622.7 41.3L625 33.1M876.1 40.9L878.3 32M878.6 40.9L880.8 32" stroke="#111" stroke-width="0.9" fill="none"/>
<line x1="625" y1="36.6" x2="875.7" y2="36.6" stroke="#6A8FD0" stroke-width="1.1"/>
<g class="bl">
<rect x="637.1" y="27.9" width="1.2" height="17.6"/>
<rect x="639.9" y="27.9" width="1.1" height="17.6"/>
<rect x="642.0" y="27.9" width="1.5" height="17.6"/>
<rect x="656.1" y="27.9" width="1.3" height="17.6"/>
<rect x="679.1" y="27.9" width="1.5" height="17.6"/>
<rect x="690.9" y="27.9" width="1.1" height="17.6"/>
<rect x="698.1" y="27.9" width="1.1" height="17.6"/>
<rect x="700.3" y="27.9" width="1.3" height="17.6"/>
<rect x="705.5" y="27.9" width="1.3" height="17.6"/>
<rect x="710.7" y="27.9" width="1.2" height="17.6"/>
<rect x="713.0" y="27.9" width="1.1" height="17.6"/>
<rect x="714.8" y="27.9" width="1.7" height="17.6"/>
<rect x="720.2" y="27.9" width="1.3" height="17.6"/>
<rect x="722.1" y="27.9" width="1.1" height="17.6"/>
<rect x="723.8" y="27.9" width="1.1" height="17.6"/>
<rect x="726.7" y="27.9" width="1.1" height="17.6"/>
<rect x="728.6" y="27.9" width="1.1" height="17.6"/>
<rect x="733.0" y="27.9" width="1.2" height="17.6"/>
<rect x="734.9" y="27.9" width="1.1" height="17.6"/>
<rect x="736.8" y="27.9" width="1.3" height="17.6"/>
<rect x="745.3" y="27.9" width="1.1" height="17.6"/>
<rect x="747.5" y="27.9" width="1.3" height="17.6"/>
<rect x="783.9" y="27.9" width="1.5" height="17.6"/>
<rect x="795.8" y="27.9" width="1.1" height="17.6"/>
<rect x="811.9" y="27.9" width="1.0" height="17.6"/>
<rect x="814.0" y="27.9" width="1.3" height="17.6"/>
<rect x="816.8" y="27.9" width="1.8" height="17.6"/>
<rect x="822.7" y="27.9" width="1.3" height="17.6"/>
<rect x="833.7" y="27.9" width="1.1" height="17.6"/>
</g>
<g stroke="#000" stroke-width="1.2" stroke-dasharray="1.8 1.4" fill="none">
<line x1="639.6" y1="21.4" x2="639.6" y2="100.4"/>
<line x1="865.1" y1="21.4" x2="865.1" y2="100.4"/>
</g>
<line x1="639" y1="55.4" x2="639" y2="42" stroke="#FFC000" stroke-width="2"/>
<path d="M636 43.5 L642 43.5 L639 37.8 Z" fill="#FFC000"/>
<line x1="865" y1="55.4" x2="865" y2="42" stroke="#0000FF" stroke-width="2"/>
<path d="M862 43 L868 43 L865 37 Z" fill="#0000FF"/>
<text x="641.4" y="66.9" font-size="8.7">31,200,948 (6)</text>
<text x="869.2" y="66" font-size="8.7">31,278,880 (6)</text>
<text x="561" y="90.1" font-size="14.5" class="i">NF1</text>
<text x="589.4" y="85.9" font-size="9.6">CLCL</text>
<text x="624.5" y="82.7" font-size="7.5">1</text>
<text x="631" y="98.5" font-size="7.5">2</text>
<g stroke="#4472C4" stroke-width="1.8" fill="#4472C4">
<line x1="632.1" y1="79.9" x2="860" y2="79.9"/>
<path d="M858.5 77 L864.4 79.9 L858.5 82.8 Z" stroke="none"/>
<line x1="639.6" y1="95.1" x2="868" y2="95.1"/>
<path d="M866.5 92.2 L872.4 95.1 L866.5 98 Z" stroke="none"/>
</g>
<text x="730.6" y="89.5" font-size="11.9" class="b">duplication</text>
<line x1="639.6" y1="94.6" x2="864" y2="80.4" stroke="#111" stroke-width="0.9" stroke-dasharray="2.4 1.8"/>
</g>

<!-- 25_igvB.svg -->
<g id="igvB">
<rect x="546.7" y="108.2" width="385.5" height="126.4" fill="#fff"/>
<rect x="546.7" y="128" width="385.5" height="106" fill="#fafafa"/>
<rect x="548" y="111.4" width="383" height="1.8" fill="#d8d8d8"/>
<rect x="561.5" y="111.1" width="14.5" height="2.2" fill="#1a1a1a"/>
<rect x="596" y="111.1" width="24.5" height="2.2" fill="#1a1a1a"/>
<rect x="702" y="111.1" width="21" height="2.2" fill="#1a1a1a"/>
<rect x="743" y="111.1" width="5" height="2.2" fill="#1a1a1a"/>
<rect x="758" y="111.1" width="10" height="2.2" fill="#1a1a1a"/>
<rect x="789" y="111.1" width="34" height="2.2" fill="#1a1a1a"/>
<rect x="841" y="111.1" width="12" height="2.2" fill="#1a1a1a"/>
<rect x="872" y="111.1" width="14" height="2.2" fill="#1a1a1a"/>
<rect x="904" y="111.1" width="10" height="2.2" fill="#1a1a1a"/>
<path d="M651 111.2 L660 112.3 L669 111.2 L674 112.3 L669 113.3 L660 112.5 L651 113.3 Z" fill="#d03030"/>
<rect x="690" y="110.8" width="2" height="2.2" fill="#e02020"/>
<g fill="#888" opacity=".55"><rect x="551" y="114.3" width="5" height="0.9"/><rect x="563.9" y="114.3" width="5" height="0.9"/><rect x="579.3" y="114.3" width="5" height="0.9"/><rect x="593.2" y="114.3" width="5" height="0.9"/><rect x="609" y="114.3" width="5" height="0.9"/><rect x="625.1" y="114.3" width="5" height="0.9"/><rect x="636.6" y="114.3" width="5" height="0.9"/><rect x="647.7" y="114.3" width="5" height="0.9"/><rect x="665.4" y="114.3" width="5" height="0.9"/><rect x="678.5" y="114.3" width="5" height="0.9"/><rect x="691.3" y="114.3" width="5" height="0.9"/><rect x="710.3" y="114.3" width="5" height="0.9"/><rect x="725.1" y="114.3" width="5" height="0.9"/><rect x="742.8" y="114.3" width="5" height="0.9"/><rect x="757.6" y="114.3" width="5" height="0.9"/><rect x="773.7" y="114.3" width="5" height="0.9"/><rect x="785.9" y="114.3" width="5" height="0.9"/><rect x="802" y="114.3" width="5" height="0.9"/><rect x="819.9" y="114.3" width="5" height="0.9"/><rect x="835.1" y="114.3" width="5" height="0.9"/><rect x="852" y="114.3" width="5" height="0.9"/><rect x="868.4" y="114.3" width="5" height="0.9"/><rect x="879.9" y="114.3" width="5" height="0.9"/><rect x="897" y="114.3" width="5" height="0.9"/><rect x="912.7" y="114.3" width="5" height="0.9"/></g>
<line x1="546.7" y1="119.2" x2="932.2" y2="119.2" stroke="#bbb" stroke-width="0.5"/>
<g stroke="#777" stroke-width="0.4"><line x1="553" y1="124.2" x2="553" y2="126"/><line x1="599.4" y1="124.2" x2="599.4" y2="126"/><line x1="645.8" y1="124.2" x2="645.8" y2="126"/><line x1="692.2" y1="124.2" x2="692.2" y2="126"/><line x1="738.6" y1="124.2" x2="738.6" y2="126"/><line x1="785" y1="124.2" x2="785" y2="126"/><line x1="831.4" y1="124.2" x2="831.4" y2="126"/><line x1="877.8" y1="124.2" x2="877.8" y2="126"/><line x1="924.2" y1="124.2" x2="924.2" y2="126"/></g>
<g fill="#888" opacity=".6"><rect x="549" y="122" width="7" height="0.9"/><rect x="595.4" y="122" width="7" height="0.9"/><rect x="641.8" y="122" width="7" height="0.9"/><rect x="688.2" y="122" width="7" height="0.9"/><rect x="734.6" y="122" width="7" height="0.9"/><rect x="781" y="122" width="7" height="0.9"/><rect x="827.4" y="122" width="7" height="0.9"/><rect x="873.8" y="122" width="7" height="0.9"/><rect x="920.2" y="122" width="7" height="0.9"/></g>
<rect x="546.7" y="126.3" width="385.5" height="2.2" fill="#c8c8c8"/>
<path d="M547.6 129.1h8.5v1.7h-8.5zM557.5 129.1h28.9v1.7h-28.9zM604.1 129.1h70.9v1.7h-70.9zM557.5 131h5.9v1.7h-5.9zM559.4 133h3.9v1.7h-3.9zM581.1 133h12.5v1.7h-12.5zM599.5 133h7.2v1.7h-7.2zM608.7 133h25v1.7h-25zM644.8 133h30.2v1.7h-30.2zM556.8 134.9h118.2v1.7h-118.2zM556.8 136.9h25v1.7h-25zM556.8 138.8h10.5v1.7h-10.5zM557.5 140.8h82.1v1.7h-82.1zM556.8 142.8h40.1v1.7h-40.1zM547 144.7h8.5v1.7h-8.5zM556.8 144.7h23.6v1.7h-23.6zM546.3 146.7h28.2v1.7h-28.2zM592.3 146.7h43.3v1.7h-43.3zM638.2 146.7h8.5v1.7h-8.5zM648.1 146.7h26.9v1.7h-26.9zM550.9 148.6h4.6v1.7h-4.6zM577.8 148.6h10.5v1.7h-10.5zM608 148.6h10.5v1.7h-10.5zM636.9 148.6h38.1v1.7h-38.1zM563.4 150.5h57.1v1.7h-57.1zM622.5 150.5h27.6v1.7h-27.6zM652 150.5h19v1.7h-19zM569.3 152.5h17.7v1.7h-17.7zM588.3 152.5h14.4v1.7h-14.4zM604.1 152.5h17.1v1.7h-17.1zM632.3 152.5h14.4v1.7h-14.4zM665.8 152.5h9.2v1.7h-9.2zM571.3 154.4h5.3v1.7h-5.3zM596.2 154.4h5.9v1.7h-5.9zM621.2 154.4h6.6v1.7h-6.6zM646.8 154.4h8.5v1.7h-8.5zM672.4 154.4h2.6v1.7h-2.6zM571.9 156.4h26.9v1.7h-26.9zM612 156.4h17.1v1.7h-17.1zM633 156.4h11.8v1.7h-11.8zM652.7 156.4h7.9v1.7h-7.9zM669.1 156.4h5.9v1.7h-5.9zM547 158.3h57.1v1.7h-57.1zM615.3 158.3h4.6v1.7h-4.6zM639.6 158.3h35.5v1.7h-35.5zM547.6 160.3h84.7v1.7h-84.7zM643.5 160.3h31.5v1.7h-31.5zM575.2 162.2h33.5v1.7h-33.5zM615.3 162.2h27.6v1.7h-27.6zM644.8 162.2h27.6v1.7h-27.6zM575.2 164.2h7.2v1.7h-7.2zM591 164.2h8.5v1.7h-8.5zM645.5 164.2h2.6v1.7h-2.6zM665.8 164.2h2.6v1.7h-2.6zM547 166.1h12.5v1.7h-12.5zM571.9 166.1h15.1v1.7h-15.1zM598.8 166.1h41.4v1.7h-41.4zM646.1 166.1h28.9v1.7h-28.9zM601.5 168.1h15.1v1.7h-15.1zM602.1 170h72.9v1.7h-72.9zM605.4 172h8.5v1.7h-8.5zM615.3 172h27.6v1.7h-27.6zM606.1 173.9h7.2v1.7h-7.2zM606.1 175.9h57.1v1.7h-57.1zM606.7 177.8h5.9v1.7h-5.9zM670 129.1h49.4v1.7h-49.4zM724.6 129.1h85.3v1.7h-85.3zM750 131h8.5v1.7h-8.5zM774.1 131h32.5v1.7h-32.5zM670 133h4.6v1.7h-4.6zM677.2 133h6.5v1.7h-6.5zM696 133h55.9v1.7h-55.9zM764.3 133h45.7v1.7h-45.7zM670 134.9h4.6v1.7h-4.6zM780.6 134.9h29.4v1.7h-29.4zM710.3 140.8h99.7v1.7h-99.7zM670 146.7h23.4v1.7h-23.4zM704.5 146.7h14.3v1.7h-14.3zM727.2 146.7h33.2v1.7h-33.2zM774.1 146.7h35.9v1.7h-35.9zM670 148.6h6.5v1.7h-6.5zM706.4 148.6h103.6v1.7h-103.6zM670 150.5h1.3v1.7h-1.3zM712.3 150.5h31.2v1.7h-31.2zM746.1 150.5h63.9v1.7h-63.9zM670 152.5h3.9v1.7h-3.9zM697.3 152.5h5.9v1.7h-5.9zM754.6 152.5h19.5v1.7h-19.5zM776 152.5h24.1v1.7h-24.1zM672.6 154.4h5.9v1.7h-5.9zM712.9 154.4h7.2v1.7h-7.2zM726.6 154.4h7.8v1.7h-7.8zM754.6 154.4h28.6v1.7h-28.6zM784.5 154.4h23.4v1.7h-23.4zM670 156.4h140v1.7h-140zM670 158.3h4.6v1.7h-4.6zM716.8 158.3h93.2v1.7h-93.2zM670 160.3h70.9v1.7h-70.9zM777.3 160.3h32.7v1.7h-32.7zM670 162.2h2.6v1.7h-2.6zM779.3 162.2h28.6v1.7h-28.6zM781.2 164.2h11.1v1.7h-11.1zM805.3 164.2h4.7v1.7h-4.7zM670 166.1h11.7v1.7h-11.7zM787.7 166.1h22.2v1.7h-22.2zM787.7 168.1h22.2v1.7h-22.2zM670 170h140v1.7h-140zM789.7 172h20.3v1.7h-20.3zM677.8 175.9h97.6v1.7h-97.6zM789 175.9h16.3v1.7h-16.3zM800 129.1h57.2v1.7h-57.2zM860.5 129.1h9.8v1.7h-9.8zM876.8 129.1h18.2v1.7h-18.2zM900.2 129.1h27.3v1.7h-27.3zM800 131h6.5v1.7h-6.5zM820.2 131h6.5v1.7h-6.5zM842.9 131h32.5v1.7h-32.5zM888.5 131h9.1v1.7h-9.1zM911.9 131h6.5v1.7h-6.5zM800 133h11.1v1.7h-11.1zM815 133h16.3v1.7h-16.3zM834.5 133h96.9v1.7h-96.9zM800 134.9h117.7v1.7h-117.7zM876.1 136.9h41.6v1.7h-41.6zM898.2 138.8h19.5v1.7h-19.5zM800 140.8h117.7v1.7h-117.7zM844.2 142.8h73.5v1.7h-73.5zM841.6 144.7h76.1v1.7h-76.1zM800 146.7h51.4v1.7h-51.4zM854 146.7h7.2v1.7h-7.2zM864.4 146.7h8.5v1.7h-8.5zM880 146.7h31.9v1.7h-31.9zM800 148.6h114.5v1.7h-114.5zM800 150.5h35.1v1.7h-35.1zM856.6 150.5h74.8v1.7h-74.8zM808.5 152.5h8.5v1.7h-8.5zM825.4 152.5h3.9v1.7h-3.9zM842.9 152.5h54v1.7h-54zM800 156.4h127.5v1.7h-127.5zM800 158.3h29.3v1.7h-29.3zM843.6 158.3h14.3v1.7h-14.3zM800 160.3h6.5v1.7h-6.5zM809.1 160.3h27.3v1.7h-27.3zM846.2 160.3h85.2v1.7h-85.2zM800 162.2h57.2v1.7h-57.2zM805.9 164.2h65.7v1.7h-65.7zM800 166.1h37.1v1.7h-37.1zM800 168.1h59.2v1.7h-59.2zM800 170h100.2v1.7h-100.2zM800 172h24.1v1.7h-24.1zM827.3 172h15.6v1.7h-15.6zM809.8 173.9h15.6v1.7h-15.6zM800 175.9h5.9v1.7h-5.9zM809.8 175.9h22.1v1.7h-22.1zM849.4 175.9h11.1v1.7h-11.1zM810.4 177.8h46.2v1.7h-46.2z" fill="url(#pB)"/>
<line x1="546.7" y1="226.5" x2="932.2" y2="226.5" stroke="#d4d4d4" stroke-width="1"/>
<line x1="548" y1="230.5" x2="931" y2="230.5" stroke="#7070e0" stroke-width="0.7" stroke-dasharray="1.2 3"/>
<rect x="555" y="229.5" width="1.1" height="2" fill="#1a1ac0"/><rect x="558" y="229.5" width="1.1" height="2" fill="#1a1ac0"/><rect x="581" y="229.5" width="1.1" height="2" fill="#1a1ac0"/><rect x="618" y="229.5" width="1.1" height="2" fill="#1a1ac0"/><rect x="640" y="229.5" width="1.1" height="2" fill="#1a1ac0"/><rect x="653" y="229.5" width="1.1" height="2" fill="#1a1ac0"/><rect x="656" y="229.5" width="1.1" height="2" fill="#1a1ac0"/><rect x="660" y="229.5" width="1.1" height="2" fill="#1a1ac0"/><rect x="665" y="229.5" width="1.1" height="2" fill="#1a1ac0"/><rect x="671" y="229.5" width="1.1" height="2" fill="#1a1ac0"/><rect x="676" y="229.5" width="1.1" height="2" fill="#1a1ac0"/><rect x="680" y="229.5" width="1.1" height="2" fill="#1a1ac0"/><rect x="686" y="229.5" width="1.1" height="2" fill="#1a1ac0"/><rect x="690" y="229.5" width="1.1" height="2" fill="#1a1ac0"/><rect x="694" y="229.5" width="1.1" height="2" fill="#1a1ac0"/><rect x="698" y="229.5" width="1.1" height="2" fill="#1a1ac0"/><rect x="703" y="229.5" width="1.1" height="2" fill="#1a1ac0"/><rect x="707" y="229.5" width="1.1" height="2" fill="#1a1ac0"/><rect x="718" y="229.5" width="1.1" height="2" fill="#1a1ac0"/><rect x="780" y="229.5" width="1.1" height="2" fill="#1a1ac0"/><rect x="798" y="229.5" width="1.1" height="2" fill="#1a1ac0"/><rect x="822" y="229.5" width="1.1" height="2" fill="#1a1ac0"/><rect x="826" y="229.5" width="1.1" height="2" fill="#1a1ac0"/><rect x="831" y="229.5" width="1.1" height="2" fill="#1a1ac0"/><rect x="855" y="229.5" width="1.1" height="2" fill="#1a1ac0"/>
<rect x="652" y="229.6" width="5" height="1.8" fill="#1a1ac0"/>
<g fill="#999" opacity=".6"><rect x="600" y="233" width="5" height=".8"/><rect x="737" y="233" width="5" height=".8"/></g>
<rect x="556.4" y="128.9" width="363.1" height="85.6" fill="none" stroke="#000" stroke-width="1.2"/>
<line x1="558" y1="209.5" x2="918" y2="209.5" stroke="#222" stroke-width="0.8"/>
<path d="M557.2 209.5 l3.8 -1.7 v3.4z M918.8 209.5 l-3.8 -1.7 v3.4z" fill="#000"/>
<text x="720.7" y="203.7" font-size="8.8">78 kb</text>
<rect x="546.7" y="108.2" width="385.5" height="126.4" fill="none" stroke="#222" stroke-width="1.1"/>
</g>

<!-- 30_panelC.svg -->
<g id="panelC">
<text class="lab" x="487.8" y="270.6" style="font-size:36px">C</text>
<text x="637.9" y="258.6" font-size="11">chr19</text>
<text x="702.4" y="255.8" class="ex" font-size="7.5">Exon 2</text>
<text x="861.2" y="255.8" class="ex" font-size="7.5">Exon 19</text>
<text x="581.6" y="282.8" font-size="14.3">Ref.</text>
<path d="M673.6 275.3L675.8 265.7M676 275.3L678.3 265.7M873.8 273.8L875.9 266M876.2 273.8L878.5 266" stroke="#111" stroke-width="0.9" fill="none"/>
<line x1="678.3" y1="270.3" x2="873" y2="270.3" stroke="#4472C4" stroke-width="1.1"/>
<g class="bl">
<rect x="724.3" y="261" width="1.4" height="18.4"/>
<rect x="728.4" y="261" width="1.2" height="18.4"/>
<rect x="732.2" y="261" width="1.4" height="18.4"/>
<rect x="734.0" y="261" width="1.9" height="18.4"/>
<rect x="738.1" y="261" width="1.5" height="18.4"/>
<rect x="744.1" y="261" width="1.5" height="18.4"/>
<rect x="750.8" y="261" width="1.8" height="18.4"/>
<rect x="765.1" y="261" width="1.5" height="18.4"/>
<rect x="769.7" y="261" width="2.3" height="18.4"/>
<rect x="795.4" y="261" width="2.2" height="18.4"/>
<rect x="813.8" y="261" width="1.3" height="18.4"/>
<rect x="822.9" y="261" width="1.9" height="18.4"/>
<rect x="832.9" y="261" width="1.9" height="18.4"/>
<rect x="855.8" y="261" width="1.1" height="18.4"/>
<rect x="857.7" y="261" width="1.3" height="18.4"/>
<rect x="866.4" y="261" width="1.5" height="18.4"/>
</g>
<g stroke="#000" stroke-width="1.5" stroke-dasharray="2.2 1.4" fill="none">
<line x1="685.1" y1="261.4" x2="685.1" y2="338.5"/>
<line x1="869.7" y1="258.6" x2="869.7" y2="336.7"/>
</g>
<line x1="685" y1="288" x2="685" y2="276" stroke="#FFC000" stroke-width="2.6"/>
<path d="M681.4 277.5 L688.6 277.5 L685 270.5 Z" fill="#FFC000"/>
<line x1="869.6" y1="288.7" x2="869.6" y2="276" stroke="#0000FF" stroke-width="2.8"/>
<path d="M865.9 277.5 L873.3 277.5 L869.6 270.4 Z" fill="#0000FF"/>
<text x="690.7" y="296.7" font-size="8.7">10,973,314 (6)</text>
<text x="877" y="295.8" font-size="8.7">11,022,573 (6)</text>
<text x="557.1" y="331.4" font-size="14.5" class="i">SMARCA4</text>
<text x="628.4" y="327" font-size="9.2">CLCL</text>
<text x="664.5" y="321.8" font-size="7.5">1</text>
<text x="674.2" y="335.7" font-size="7.5">2</text>
<g stroke="#4472C4" stroke-width="2.6" fill="#4472C4">
<line x1="671.2" y1="318.6" x2="865" y2="318.6"/>
<path d="M863 315 L870.3 318.7 L863 322.4 Z" stroke="none"/>
<line x1="685" y1="332.7" x2="876" y2="332.7"/>
<path d="M874 329 L881.4 332.8 L874 336.6 Z" stroke="none"/>
</g>
<text x="741" y="328.7" font-size="11.85" class="b">duplication</text>
<line x1="685.5" y1="332" x2="869" y2="319.2" stroke="#000" stroke-width="1" stroke-dasharray="2.6 1.6"/>
</g>

<!-- 35_igvC.svg -->
<g id="igvC">
<rect x="546.4" y="346" width="377.7" height="90" fill="#fff"/>
<rect x="546.4" y="366" width="377.7" height="62" fill="#f8f8f8"/>
<rect x="548" y="348.4" width="375" height="1.8" fill="#e0e0e0"/>
<rect x="591" y="348.1" width="37" height="2.2" fill="#111"/>
<rect x="635" y="348.1" width="15.5" height="2.2" fill="#111"/>
<rect x="773" y="348.1" width="17" height="2.2" fill="#111"/>
<rect x="793" y="348.1" width="30.5" height="2.2" fill="#111"/>
<rect x="835" y="348.1" width="18" height="2.2" fill="#111"/>
<rect x="875" y="348.1" width="14.5" height="2.2" fill="#111"/>
<rect x="907" y="348.1" width="16" height="2.2" fill="#111"/>
<path d="M702 348.3 L709 349.3 L716 348.3 L722 349.3 L728 348.3 L728 350.3 L722 349.5 L716 350.3 L709 349.5 L702 350.3 Z" fill="#d03030"/>
<rect x="617" y="347.8" width="1.6" height="2.6" fill="#e02020"/>
<g fill="#888" opacity=".55"><rect x="566" y="351.6" width="5" height="0.9"/><rect x="585" y="351.6" width="5" height="0.9"/><rect x="604.9" y="351.6" width="5" height="0.9"/><rect x="625.3" y="351.6" width="5" height="0.9"/><rect x="646.8" y="351.6" width="5" height="0.9"/><rect x="666.7" y="351.6" width="5" height="0.9"/><rect x="688.1" y="351.6" width="5" height="0.9"/><rect x="702.3" y="351.6" width="5" height="0.9"/><rect x="720.1" y="351.6" width="5" height="0.9"/><rect x="741.6" y="351.6" width="5" height="0.9"/><rect x="760.8" y="351.6" width="5" height="0.9"/><rect x="782" y="351.6" width="5" height="0.9"/><rect x="796.9" y="351.6" width="5" height="0.9"/><rect x="814.7" y="351.6" width="5" height="0.9"/><rect x="830.7" y="351.6" width="5" height="0.9"/><rect x="849" y="351.6" width="5" height="0.9"/><rect x="867.6" y="351.6" width="5" height="0.9"/><rect x="881.7" y="351.6" width="5" height="0.9"/><rect x="897.4" y="351.6" width="5" height="0.9"/><rect x="913.7" y="351.6" width="5" height="0.9"/></g>
<line x1="546.4" y1="357.6" x2="924.1" y2="357.6" stroke="#c4c4c4" stroke-width="0.5"/>
<g stroke="#888" stroke-width="0.4"><line x1="570.5" y1="362.5" x2="570.5" y2="364.2"/><line x1="643.7" y1="362.5" x2="643.7" y2="364.2"/><line x1="716.9" y1="362.5" x2="716.9" y2="364.2"/><line x1="790.1" y1="362.5" x2="790.1" y2="364.2"/><line x1="863.3" y1="362.5" x2="863.3" y2="364.2"/></g>
<g fill="#888" opacity=".6"><rect x="604" y="360.8" width="6" height="0.9"/><rect x="677.2" y="360.8" width="6" height="0.9"/><rect x="750.4" y="360.8" width="6" height="0.9"/><rect x="823.6" y="360.8" width="6" height="0.9"/><rect x="896.8" y="360.8" width="6" height="0.9"/><rect x="733" y="357.2" width="5" height=".9"/></g>
<rect x="546.4" y="364.3" width="377.7" height="1.6" fill="#d0d0d0"/>
<rect x="548" y="371.2" width="9" height="2.4" fill="#e8a070" opacity=".8"/>
<rect x="557" y="369.2" width="361.5" height="4.8" fill="url(#pCovC)"/>
<path d="M557 369 L740 369 L760 369.8 L800 371.4 L860 371.8 L900 370.6 L918.5 370.2 L918.5 368 L557 368 Z" fill="#f8f8f8"/>
<path d="M547.6 374.7h134.2v1.9h-134.2zM684.5 374.7h10.6v1.9h-10.6zM704.8 374.7h30.2v1.9h-30.2zM547.6 376.9h66.2v1.9h-66.2zM615.6 376.9h70.6v1.9h-70.6zM688 376.9h47v1.9h-47zM547.6 379.1h105.1v1.9h-105.1zM655.4 379.1h79.6v1.9h-79.6zM547.6 381.3h187.4v1.9h-187.4zM547.6 383.5h79.5v1.9h-79.5zM635.1 383.5h26.5v1.9h-26.5zM663.3 383.5h18.5v1.9h-18.5zM692.4 383.5h42.6v1.9h-42.6zM547.6 385.7h31.8v1.9h-31.8zM589.1 385.7h60v1.9h-60zM652.7 385.7h30v1.9h-30zM693.3 385.7h14.1v1.9h-14.1zM710.1 385.7h7.1v1.9h-7.1zM723.4 385.7h11.7v1.9h-11.7zM547.6 387.9h8.8v1.9h-8.8zM559.1 387.9h15.9v1.9h-15.9zM578.6 387.9h28.3v1.9h-28.3zM608.6 387.9h23.8v1.9h-23.8zM657.1 387.9h16.8v1.9h-16.8zM693.3 387.9h15v1.9h-15zM711 387.9h17.7v1.9h-17.7zM731.3 387.9h3.7v1.9h-3.7zM547.6 390.1h117.4v1.9h-117.4zM666.8 390.1h68.2v1.9h-68.2zM547.6 392.3h8.8v1.9h-8.8zM559.1 392.3h2.6v1.9h-2.6zM563.5 392.3h49.4v1.9h-49.4zM617.4 392.3h30.9v1.9h-30.9zM695.1 392.3h17.7v1.9h-17.7zM721.6 392.3h3.5v1.9h-3.5zM730.4 392.3h4.6v1.9h-4.6zM547.6 394.5h7.9v1.9h-7.9zM559.1 394.5h90.1v1.9h-90.1zM695.1 394.5h39.9v1.9h-39.9zM558.2 396.7h7.9v1.9h-7.9zM568.8 396.7h166.2v1.9h-166.2zM558.2 398.9h19.4v1.9h-19.4zM578.6 398.9h20.3v1.9h-20.3zM601.5 398.9h11.5v1.9h-11.5zM620 398.9h89.2v1.9h-89.2zM558.2 401.1h35.3v1.9h-35.3zM594.4 401.1h17.7v1.9h-17.7zM620.9 401.1h50.3v1.9h-50.3zM672.1 401.1h62.9v1.9h-62.9zM558.2 403.3h176.8v1.9h-176.8zM558.2 405.5h1.8v1.9h-1.8zM564.4 405.5h90.1v1.9h-90.1zM694.2 405.5h4.4v1.9h-4.4zM558.2 407.7h7.9v1.9h-7.9zM568.8 407.7h7.9v1.9h-7.9zM598 407.7h38.8v1.9h-38.8zM571.5 409.9h17.7v1.9h-17.7zM602.4 409.9h2.6v1.9h-2.6zM571.5 412.1h4.4v1.9h-4.4zM604.2 412.1h98.9v1.9h-98.9zM573.3 414.3h145.7v1.9h-145.7zM573.3 416.5h6.2v1.9h-6.2zM605 416.5h79.5v1.9h-79.5zM730 374.7h25.1v1.9h-25.1zM770 374.7h49.3v1.9h-49.3zM822.9 374.7h92.9v1.9h-92.9zM730 376.9h66.9v1.9h-66.9zM801.6 376.9h53v1.9h-53zM860.1 376.9h16.7v1.9h-16.7zM883.3 376.9h17.7v1.9h-17.7zM903.8 376.9h13.9v1.9h-13.9zM730 379.1h105.9v1.9h-105.9zM842.5 379.1h32.5v1.9h-32.5zM893.6 379.1h12.1v1.9h-12.1zM910.3 379.1h7.4v1.9h-7.4zM730 381.3h154.3v1.9h-154.3zM893.6 381.3h29.7v1.9h-29.7zM730 383.5h187.7v1.9h-187.7zM730 385.7h50.2v1.9h-50.2zM782 385.7h3.7v1.9h-3.7zM794.1 385.7h45.5v1.9h-45.5zM843.4 385.7h74.3v1.9h-74.3zM730 387.9h11.2v1.9h-11.2zM745.8 387.9h12.1v1.9h-12.1zM806.2 387.9h41.8v1.9h-41.8zM849 387.9h68.8v1.9h-68.8zM730 390.1h113.4v1.9h-113.4zM869.4 390.1h53.9v1.9h-53.9zM730 392.3h40v1.9h-40zM814.6 392.3h7.4v1.9h-7.4zM834.1 392.3h9.3v1.9h-9.3zM901 392.3h16.7v1.9h-16.7zM730 394.5h37.2v1.9h-37.2zM817.4 394.5h4.6v1.9h-4.6zM835 394.5h30.7v1.9h-30.7zM901 394.5h13.9v1.9h-13.9zM730 396.7h106.9v1.9h-106.9zM842.5 396.7h17.7v1.9h-17.7zM914 396.7h2.8v1.9h-2.8zM735.6 398.9h13v1.9h-13zM755.1 398.9h14.9v1.9h-14.9zM843.4 398.9h2.8v1.9h-2.8zM914 398.9h2.8v1.9h-2.8zM730 401.1h40.9v1.9h-40.9zM730 403.3h45.5v1.9h-45.5zM738.4 405.5h10.2v1.9h-10.2zM754.2 405.5h7.4v1.9h-7.4z" fill="url(#pC)"/>
<line x1="546.4" y1="428.6" x2="924.1" y2="428.6" stroke="#ccc" stroke-width="0.8"/>
<line x1="548" y1="432.1" x2="923" y2="432.1" stroke="#5a5ad8" stroke-width="0.5"/>
<rect x="636.5" y="430.9" width="1.5" height="2.4" fill="#1a1ac0"/><rect x="645" y="430.9" width="1.5" height="2.4" fill="#1a1ac0"/><rect x="651.5" y="430.9" width="1.5" height="2.4" fill="#1a1ac0"/><rect x="653.5" y="430.9" width="1.5" height="2.4" fill="#1a1ac0"/><rect x="657.5" y="430.9" width="1.5" height="2.4" fill="#1a1ac0"/><rect x="663" y="430.9" width="1.5" height="2.4" fill="#1a1ac0"/><rect x="675.5" y="430.9" width="1.5" height="2.4" fill="#1a1ac0"/><rect x="688" y="430.9" width="1.5" height="2.4" fill="#1a1ac0"/><rect x="721.5" y="430.9" width="1.5" height="2.4" fill="#1a1ac0"/><rect x="728.5" y="430.9" width="1.5" height="2.4" fill="#1a1ac0"/><rect x="775.5" y="430.9" width="1.5" height="2.4" fill="#1a1ac0"/><rect x="810.5" y="430.9" width="1.5" height="2.4" fill="#1a1ac0"/><rect x="828.5" y="430.9" width="1.5" height="2.4" fill="#1a1ac0"/><rect x="847.5" y="430.9" width="1.5" height="2.4" fill="#1a1ac0"/><rect x="891" y="430.9" width="1.5" height="2.4" fill="#1a1ac0"/><rect x="896" y="430.9" width="1.5" height="2.4" fill="#1a1ac0"/><rect x="911.5" y="430.9" width="1.5" height="2.4" fill="#1a1ac0"/>
<g fill="#999" opacity=".6"><rect x="733" y="434.6" width="6" height=".8"/><rect x="777" y="434.6" width="6" height=".8"/></g>
<rect x="557" y="367.3" width="361.6" height="60.2" fill="none" stroke="#000" stroke-width="1.2"/>
<line x1="559" y1="422.7" x2="917" y2="422.7" stroke="#000" stroke-width="1.7"/>
<path d="M557.6 422.7 l4.6 -2.3 v4.6z M918 422.7 l-4.6 -2.3 v4.6z" fill="#000"/>
<text x="735.6" y="420.1" font-size="8.8">50 kb</text>
<rect x="546.4" y="346" width="377.7" height="90" fill="none" stroke="#333" stroke-width="1.4"/>
</g>

<!-- 40_panelD.svg -->
<g id="panelD">
<text class="lab" x="14.6" y="328.5">D</text>
<text x="100.2" y="326.9" font-size="12.3">chr10</text>
<text x="62.2" y="355.5" font-size="16.3">Ref.</text>
<line x1="120" y1="346.8" x2="372" y2="346.8" stroke="#4472C4" stroke-width="1.2"/>
<g class="bl">
<rect x="117.8" y="342" width="2.2" height="8.4"/>
<rect x="120.2" y="337.1" width="1.4" height="18"/>
<rect x="193.9" y="337.1" width="1.5" height="18"/>
<rect x="272" y="338" width="1.3" height="17"/>
<rect x="286.3" y="338" width="1.1" height="17"/>
<rect x="291" y="338" width="0.9" height="17"/>
<rect x="338.2" y="338" width="1.5" height="17"/>
<rect x="352.1" y="338" width="1.5" height="17"/>
<rect x="359.7" y="338" width="2.1" height="17"/>
<rect x="371.4" y="338" width="17.4" height="17"/>
</g>
<g stroke="#000" stroke-width="1.15" stroke-dasharray="1.8 1.4" fill="none">
<line x1="289.4" y1="320.2" x2="289.4" y2="418.4"/>
<line x1="295.5" y1="320.2" x2="295.5" y2="418.4"/>
<line x1="299" y1="320.2" x2="299" y2="418.4"/>
<line x1="302.7" y1="320.2" x2="302.7" y2="418.4"/>
</g>
<g stroke-width="2" fill="none">
<line x1="295.1" y1="329.8" x2="295.1" y2="341" stroke="#0000FF"/>
<path d="M292.3 340 L297.9 340 L295.1 345.4 Z" fill="#0000FF" stroke="none"/>
<line x1="302.7" y1="329.8" x2="302.7" y2="341" stroke="#FF0000"/>
<path d="M299.9 340 L305.5 340 L302.7 345.4 Z" fill="#FF0000" stroke="none"/>
<line x1="288.8" y1="362.8" x2="288.8" y2="352" stroke="#FFC000"/>
<path d="M286 353 L291.6 353 L288.8 347.4 Z" fill="#FFC000" stroke="none"/>
<line x1="298.8" y1="363.6" x2="298.8" y2="352" stroke="#00B050"/>
<path d="M296 353 L301.6 353 L298.8 347.4 Z" fill="#00B050" stroke="none"/>
</g>
<text x="213.9" y="326.8" font-size="10">87,937,166(6)</text>
<text x="310.4" y="326.8" font-size="10">87,938,752(6)</text>
<text x="221.1" y="373" font-size="10" word-spacing="-1.5">87,932,212 (6)</text>
<text x="307" y="374.4" font-size="10" word-spacing="-1.5">87,937,587 (6)</text>
<text x="49.1" y="402.2" font-size="15.6" class="i">PTEN</text>
<text x="92" y="397.2" font-size="10.7">CLCL</text>
<text x="126.5" y="387.8" font-size="7.5" class="b">1</text>
<text x="282.2" y="402" font-size="7.5">2</text>
<text x="306.3" y="417.4" font-size="7.5">3</text>
<g stroke="#4472C4" stroke-width="1.8" fill="#4472C4">
<line x1="124.7" y1="389.8" x2="290" y2="389.8"/>
<path d="M288.5 387 L294.1 389.8 L288.5 392.6 Z" stroke="none"/>
<line x1="299.2" y1="399.6" x2="294" y2="399.6"/>
<path d="M295 396.8 L289.4 399.6 L295 402.4 Z" stroke="none"/>
<line x1="302.2" y1="407.8" x2="383" y2="407.8"/>
<path d="M382 405 L387.7 407.8 L382 410.6 Z" stroke="none"/>
</g>
<g stroke="#111" stroke-width="0.8" stroke-dasharray="2 1.6" fill="none">
<line x1="294.5" y1="390" x2="299" y2="399.3"/>
<line x1="290" y1="400" x2="302" y2="407.5"/>
</g>
<text x="303.3" y="398.5" font-size="11.9" class="b">inversion(1)</text>
<text x="316.6" y="418.4" font-size="11.9" class="b">inversion(2)</text>
<text x="246.6" y="411.6" font-size="12.1" class="b">deletion</text>
</g>

<!-- 45_igvD.svg -->
<g id="igvD">
<rect x="49.2" y="428.8" width="343.4" height="173" fill="#f8f8f8"/>
<rect x="49.2" y="428.8" width="343.4" height="12.5" fill="#fcfcfc"/>
<g stroke="#f3f3f3" stroke-width="1"><line x1="55" y1="515" x2="55" y2="587"/><line x1="65" y1="515" x2="65" y2="587"/><line x1="75" y1="515" x2="75" y2="587"/><line x1="85" y1="515" x2="85" y2="587"/><line x1="95" y1="515" x2="95" y2="587"/><line x1="105" y1="515" x2="105" y2="587"/><line x1="115" y1="515" x2="115" y2="587"/><line x1="125" y1="515" x2="125" y2="587"/><line x1="135" y1="515" x2="135" y2="587"/><line x1="145" y1="515" x2="145" y2="587"/><line x1="155" y1="515" x2="155" y2="587"/><line x1="165" y1="515" x2="165" y2="587"/><line x1="175" y1="515" x2="175" y2="587"/><line x1="185" y1="515" x2="185" y2="587"/><line x1="195" y1="515" x2="195" y2="587"/><line x1="205" y1="515" x2="205" y2="587"/><line x1="215" y1="515" x2="215" y2="587"/><line x1="225" y1="515" x2="225" y2="587"/><line x1="235" y1="515" x2="235" y2="587"/><line x1="245" y1="515" x2="245" y2="587"/><line x1="255" y1="515" x2="255" y2="587"/><line x1="265" y1="515" x2="265" y2="587"/><line x1="275" y1="515" x2="275" y2="587"/><line x1="285" y1="515" x2="285" y2="587"/><line x1="295" y1="515" x2="295" y2="587"/><line x1="305" y1="515" x2="305" y2="587"/><line x1="315" y1="515" x2="315" y2="587"/><line x1="325" y1="515" x2="325" y2="587"/><line x1="335" y1="515" x2="335" y2="587"/><line x1="345" y1="515" x2="345" y2="587"/><line x1="355" y1="515" x2="355" y2="587"/><line x1="365" y1="515" x2="365" y2="587"/><line x1="375" y1="515" x2="375" y2="587"/><line x1="385" y1="515" x2="385" y2="587"/></g>
<rect x="51" y="430.5" width="6" height="1" fill="#888" opacity=".7"/>
<rect x="50.5" y="438.6" width="36" height="1.8" fill="url(#pMM)" opacity=".75"/>
<path d="M89.5 440.9 L89.5 434 L100 433.6 L120 433 L140 432.3 L160 431.5 L190 431.2 L230 431 L261.5 431 L261.5 440.9 Z" fill="url(#pCov)"/>
<rect x="261.5" y="434" width="14.5" height="6.9" fill="url(#pMM)"/>
<rect x="276" y="439" width="40.5" height="1.9" fill="url(#pMM)" opacity=".8"/>
<path d="M317.5 440.9 L317.5 435 L345 434.5 L360 436 L392 436.5 L392 440.9 Z" fill="url(#pCov2)"/>
<path d="M54 442.4h170.6v3.4h-170.6zM50.4 446.5h21.7v3.4h-21.7zM85.6 446.5h139v3.4h-139zM86.5 450.6h138.1v3.4h-138.1zM91 454.8h133.6v3.4h-133.6zM92.8 458.9h131.8v3.4h-131.8zM50.4 463h174.2v3.4h-174.2zM89.2 467.1h135.4v3.4h-135.4zM89.2 471.2h105.6v3.4h-105.6zM89.2 475.4h135.4v3.4h-135.4zM90.1 479.5h134.5v3.4h-134.5zM98.3 483.6h126.4v3.4h-126.4zM122.6 487.7h83v3.4h-83zM142.5 491.8h82.1v3.4h-82.1zM140.7 496h84v3.4h-84zM148.8 500.1h75.8v3.4h-75.8zM155.1 504.2h46.9v3.4h-46.9zM199.4 508.3h25.3v3.4h-25.3zM220 442.4h55.1v3.4h-55.1zM317.5 442.4h37v3.4h-37zM220 446.5h53.3v3.4h-53.3zM317.5 446.5h73.1v3.4h-73.1zM220 450.6h55.1v3.4h-55.1zM220 454.8h38.8v3.4h-38.8zM316.6 454.8h74.9v3.4h-74.9zM220 458.9h9.9v3.4h-9.9zM317.5 458.9h50.6v3.4h-50.6zM220 463h41.5v3.4h-41.5zM317.5 463h74v3.4h-74zM220 467.1h55.1v3.4h-55.1zM317.5 467.1h74v3.4h-74zM317.5 471.2h74v3.4h-74zM220 475.4h56v3.4h-56zM317.5 475.4h74v3.4h-74zM220 479.5h56v3.4h-56zM317.5 479.5h74v3.4h-74zM220 483.6h56v3.4h-56zM227.2 487.7h47.8v3.4h-47.8zM220 491.8h38.8v3.4h-38.8zM317.5 491.8h74v3.4h-74zM220 496h4.5v3.4h-4.5zM220 500.1h56v3.4h-56zM220 508.3h18.1v3.4h-18.1z" fill="url(#pD)"/>
<rect x="261.5" y="463" width="56" height="3.4" fill="url(#pMM)"/>
<rect x="258.8" y="491.8" width="58.7" height="3.4" fill="url(#pMM)"/>
<rect x="49.2" y="587.3" width="343.4" height="1.8" fill="#c8c8c8"/>
<rect x="49.2" y="589.1" width="343.4" height="12" fill="#fff"/>
<line x1="50" y1="593" x2="392" y2="593" stroke="#2a2ac8" stroke-width="0.6"/>
<g fill="#2a2ac8"><rect x="52" y="592.3" width="1.2" height="1.4"/><rect x="64.2" y="592.3" width="1.2" height="1.4"/><rect x="76.4" y="592.3" width="1.2" height="1.4"/><rect x="88.6" y="592.3" width="1.2" height="1.4"/><rect x="100.8" y="592.3" width="1.2" height="1.4"/><rect x="113" y="592.3" width="1.2" height="1.4"/><rect x="125.2" y="592.3" width="1.2" height="1.4"/><rect x="137.4" y="592.3" width="1.2" height="1.4"/><rect x="149.6" y="592.3" width="1.2" height="1.4"/><rect x="161.8" y="592.3" width="1.2" height="1.4"/><rect x="174" y="592.3" width="1.2" height="1.4"/><rect x="186.2" y="592.3" width="1.2" height="1.4"/><rect x="198.4" y="592.3" width="1.2" height="1.4"/><rect x="210.6" y="592.3" width="1.2" height="1.4"/><rect x="222.8" y="592.3" width="1.2" height="1.4"/><rect x="235" y="592.3" width="1.2" height="1.4"/><rect x="247.2" y="592.3" width="1.2" height="1.4"/><rect x="259.4" y="592.3" width="1.2" height="1.4"/><rect x="271.6" y="592.3" width="1.2" height="1.4"/><rect x="283.8" y="592.3" width="1.2" height="1.4"/><rect x="296" y="592.3" width="1.2" height="1.4"/><rect x="308.2" y="592.3" width="1.2" height="1.4"/><rect x="320.4" y="592.3" width="1.2" height="1.4"/><rect x="332.6" y="592.3" width="1.2" height="1.4"/><rect x="344.8" y="592.3" width="1.2" height="1.4"/><rect x="357" y="592.3" width="1.2" height="1.4"/><rect x="369.2" y="592.3" width="1.2" height="1.4"/><rect x="381.4" y="592.3" width="1.2" height="1.4"/></g>
<rect x="117.4" y="591" width="8.5" height="4" fill="#1010b0"/>
<rect x="86.5" y="441.6" width="231" height="90.8" fill="none" stroke="#222" stroke-width="1.1"/>
<line x1="88" y1="524.5" x2="316" y2="524.5" stroke="#222" stroke-width="0.9"/>
<path d="M87.1 524.5 l3.6 -1.7 v3.4z M316.9 524.5 l-3.6 -1.7 v3.4z" fill="#000"/>
<text x="159.1" y="519.8" font-size="8.9">7 kb</text>
<rect x="49.2" y="428.8" width="343.4" height="173" fill="none" stroke="#222" stroke-width="1.2"/>
</g>

<!-- 50_panelE.svg -->
<g id="panelE">
<text class="lab" x="409.5" y="472">E</text>
<rect x="453.2" y="459.6" width="23.5" height="18.2" fill="#B4C7E7"/>
<rect x="525.5" y="497.2" width="23.5" height="18.2" fill="#B4C7E7"/>
<rect x="453.2" y="515.9" width="23.5" height="18.2" fill="#B4C7E7"/>
<rect x="477.3" y="515.9" width="23.5" height="18.2" fill="#B4C7E7"/>
<g stroke="#ededed" stroke-width="0.9" stroke-dasharray="2 1.5">
<line x1="477.0" y1="459.3" x2="477.0" y2="534.4"/>
<line x1="501.1" y1="459.3" x2="501.1" y2="534.4"/>
<line x1="525.2" y1="459.3" x2="525.2" y2="534.4"/>
<line x1="549.3" y1="459.3" x2="549.3" y2="534.4"/>
<line x1="452.9" y1="478.1" x2="573.4" y2="478.1"/>
<line x1="452.9" y1="496.9" x2="573.4" y2="496.9"/>
<line x1="452.9" y1="515.6" x2="573.4" y2="515.6"/>
</g>
<rect x="452.9" y="459.3" width="120.5" height="75.1" fill="none" stroke="#7a7a7a" stroke-width="1" stroke-dasharray="3 1.5"/>
<path d="M489.0 465.7 l3.5 3.5 l-3.5 3.5 l-3.5 -3.5 z" fill="#F4665C"/>
<path d="M464.9 484.5 l3.5 3.5 l-3.5 3.5 l-3.5 -3.5 z" fill="#F4665C"/>
<path d="M537.2 503.2 l3.5 3.5 l-3.5 3.5 l-3.5 -3.5 z" fill="#F4665C"/>
<path d="M537.2 522.0 l3.5 3.5 l-3.5 3.5 l-3.5 -3.5 z" fill="#F4665C"/>
<circle cx="561.4" cy="469.2" r="3.4" fill="#000"/>
<circle cx="561.4" cy="525.5" r="3.4" fill="#000"/>
<text x="582.3" y="472.6" font-size="12.2" class="i">STK11</text>
<text x="582.3" y="491.5" font-size="12.2" class="i">NF1</text>
<text x="582.3" y="510.7" font-size="12.2" class="i">PTEN</text>
<text x="582.3" y="528.8" font-size="12.2" class="i">SMARCA4</text>
<text transform="translate(471.7,546.6) rotate(-55)" text-anchor="end" font-size="11.1">RERF-LC-MS</text>
<text transform="translate(496.0,546.6) rotate(-55)" text-anchor="end" font-size="11.1">RERF-LC-KJ</text>
<text transform="translate(520.3,546.6) rotate(-55)" text-anchor="end" font-size="11.1">LC2/ad</text>
<text transform="translate(544.6,546.6) rotate(-55)" text-anchor="end" font-size="11.1">PC-14</text>
<text transform="translate(568.9,546.6) rotate(-55)" text-anchor="end" font-size="11.1">A549</text>
<circle cx="582" cy="553.4" r="3.4" fill="#000"/>
<text x="595.7" y="556.7" font-size="11.3">Nonsense SNVs / frameshift indels</text>
<rect x="573.3" y="565.4" width="16.3" height="13.4" fill="#B4C7E7"/>
<text x="595.7" y="575.2" font-size="11.3">Large deletions</text>
<path d="M581.6 586.2 l3.5 3.5 l-3.5 3.5 l-3.5 -3.5 z" fill="#F4665C"/>
<text x="595.7" y="593" font-size="11.3">CLCLs</text>
</g>

<!-- 60_panelF.svg -->
<g id="panelF">
<text class="lab" x="764.5" y="471.8">F</text>
<rect x="796.1" y="449.2" width="81.1" height="21.6" fill="#A6A6A6"/>
<rect x="878.5" y="449.2" width="41.9" height="21.6" fill="#A6A6A6"/>
<rect x="922.0" y="449.2" width="51.0" height="21.6" fill="#A6A6A6"/>
<rect x="975.0" y="449.2" width="50.7" height="21.6" fill="#A6A6A6"/>
<rect x="1027.8" y="449.2" width="48.2" height="21.6" fill="#A6A6A6"/>
<rect x="796.1" y="474.3" width="81.1" height="40.5" fill="#A6A6A6"/>
<rect x="878.5" y="474.3" width="41.9" height="40.5" fill="#DEDEDE"/>
<rect x="922.0" y="474.3" width="51.0" height="40.5" fill="#DEDEDE"/>
<rect x="975.0" y="474.3" width="50.7" height="40.5" fill="#DEDEDE"/>
<rect x="1027.8" y="474.3" width="48.2" height="40.5" fill="#DEDEDE"/>
<rect x="796.1" y="516.7" width="81.1" height="40.9" fill="#A6A6A6"/>
<rect x="878.5" y="516.7" width="41.9" height="40.9" fill="#EFEFEF"/>
<rect x="922.0" y="516.7" width="51.0" height="40.9" fill="#EFEFEF"/>
<rect x="975.0" y="516.7" width="50.7" height="40.9" fill="#EFEFEF"/>
<rect x="1027.8" y="516.7" width="48.2" height="40.9" fill="#EFEFEF"/>
<text x="899.5" y="464.7" font-size="12.3" class="b" text-anchor="middle" style="fill:#fff">LINE</text>
<text x="947.5" y="464.7" font-size="12.3" class="b" text-anchor="middle" style="fill:#fff">SINE</text>
<text x="1000.4" y="464.7" font-size="12.3" class="b" text-anchor="middle" style="fill:#fff">LTR</text>
<text x="1051.9" y="464.7" font-size="12.3" class="b" text-anchor="middle" style="fill:#fff">Others</text>
<g font-size="12.1" text-anchor="middle" font-weight="bold">
<text x="836.4" y="491.0" style="fill:#fff">Number of</text>
<text x="836.4" y="506.2" style="fill:#fff">junctions</text>
<text x="836.4" y="534.2" style="fill:#fff">Percentage</text>
<text x="836.4" y="549.2" style="fill:#fff">(%)</text>
</g>
<text x="899.5" y="497.9" font-size="12.6" text-anchor="middle">12</text>
<text x="947.5" y="497.9" font-size="12.6" text-anchor="middle">22</text>
<text x="1000.4" y="497.9" font-size="12.6" text-anchor="middle">4</text>
<text x="1051.9" y="497.9" font-size="12.6" text-anchor="middle">54</text>
<text x="899.5" y="542.1" font-size="12.6" text-anchor="middle">13</text>
<text x="947.5" y="542.1" font-size="12.6" text-anchor="middle">24</text>
<text x="1000.4" y="542.1" font-size="12.6" text-anchor="middle">4</text>
<text x="1051.9" y="542.1" font-size="12.6" text-anchor="middle">59</text>
<text x="946" y="603.3" style="font-family:'Liberation Serif',serif;font-weight:bold;fill:#000" font-size="34.4">Figure 3</text>
</g>

<!-- 70_wm.svg -->
<g id="watermark" fill="none" stroke-linecap="round" stroke-linejoin="round">
<g>
<path d="M878 543.6c-8 0-14.4 5.3-14.4 11.8c0 3.7 2 7 5.2 9.1l-1.5 4.3l5.2-2.6c1.7 0.5 3.5 0.8 5.5 0.8c8 0 14.4-5.3 14.4-11.8S886 543.6 878 543.6z" fill="#fff" stroke="#888" stroke-width="0.9"/>
<circle cx="873" cy="551.4" r="1.5" fill="#777" stroke="none"/><circle cx="883.8" cy="550.9" r="1.5" fill="#777" stroke="none"/>
<path d="M892 553.6c-7.1 0-12.8 4.8-12.8 10.7s5.700 10.700 12.8 10.700c1.500 0 3-.2 4.400-.6l4.600 2.500l-1.200-3.900c3.100-2 5-5 5-8.400C904.800 558.400 899.100 553.600 892 553.600z" fill="#fff" stroke="#888" stroke-width="0.9"/>
<circle cx="888.1" cy="561" r="1.2" fill="#888" stroke="none"/><circle cx="896.3" cy="561" r="1.2" fill="#888" stroke="none"/>
</g>
<path transform="translate(913.5,551.0) scale(0.2720,0.2480)" d="M5 8H95 M52 8L40 28 M18 30H82V95H18Z M18 62H82" stroke="#444" stroke-width="1.5" vector-effect="non-scaling-stroke"/>
<path transform="translate(939.1,551.0) scale(0.2720,0.2480)" d="M35 15H95 M58 15Q56 50 34 72 M52 40H86Q86 62 82 72L72 68 M10 8L20 20 M3 38H22V68Q14 78 6 86 M14 76Q40 92 96 90" stroke="#444" stroke-width="1.5" vector-effect="non-scaling-stroke"/>
<path transform="translate(964.8,551.0) scale(0.2720,0.2480)" d="M50 0V12 M8 30V18H92L88 30 M42 24Q36 38 20 50 M38 32H70Q56 56 22 70 M44 42Q62 60 94 70 M28 70H72V95H28Z" stroke="#444" stroke-width="1.5" vector-effect="non-scaling-stroke"/>
<path transform="translate(990.5,551.0) scale(0.2720,0.2480)" d="M94 8H8V92H96 M36 18L26 36 M30 30H82 M20 55H88 M54 30Q54 66 24 84 M54 58Q66 74 88 84" stroke="#444" stroke-width="1.5" vector-effect="non-scaling-stroke"/>
<path transform="translate(1016.1,551.0) scale(0.2720,0.2480)" d="M22 4L30 18 M48 1L53 16 M82 3L70 18 M8 40V26H92L88 40 M28 44H72L52 57V90Q50 96 40 88 M4 70H96" stroke="#444" stroke-width="1.5" vector-effect="non-scaling-stroke"/>
<path transform="translate(912.7,550.1) scale(0.2720,0.2480)" d="M5 8H95 M52 8L40 28 M18 30H82V95H18Z M18 62H82" stroke="#ffffff" stroke-width="1.9" vector-effect="non-scaling-stroke"/>
<path transform="translate(938.4,550.1) scale(0.2720,0.2480)" d="M35 15H95 M58 15Q56 50 34 72 M52 40H86Q86 62 82 72L72 68 M10 8L20 20 M3 38H22V68Q14 78 6 86 M14 76Q40 92 96 90" stroke="#ffffff" stroke-width="1.9" vector-effect="non-scaling-stroke"/>
<path transform="translate(964.0,550.1) scale(0.2720,0.2480)" d="M50 0V12 M8 30V18H92L88 30 M42 24Q36 38 20 50 M38 32H70Q56 56 22 70 M44 42Q62 60 94 70 M28 70H72V95H28Z" stroke="#ffffff" stroke-width="1.9" vector-effect="non-scaling-stroke"/>
<path transform="translate(989.7,550.1) scale(0.2720,0.2480)" d="M94 8H8V92H96 M36 18L26 36 M30 30H82 M20 55H88 M54 30Q54 66 24 84 M54 58Q66 74 88 84" stroke="#ffffff" stroke-width="1.9" vector-effect="non-scaling-stroke"/>
<path transform="translate(1015.3,550.1) scale(0.2720,0.2480)" d="M22 4L30 18 M48 1L53 16 M82 3L70 18 M8 40V26H92L88 40 M28 44H72L52 57V90Q50 96 40 88 M4 70H96" stroke="#ffffff" stroke-width="1.9" vector-effect="non-scaling-stroke"/>
</g>
<path d="M1043 0h13.500q-1 1.700-5 2.100q-5.500 .3-8.500-2.100z" fill="#1aad19"/>
<rect x="1056" y="0.6" width="20" height="1.4" fill="#9fb0c8" opacity=".8"/>

</svg>
</body></html>
